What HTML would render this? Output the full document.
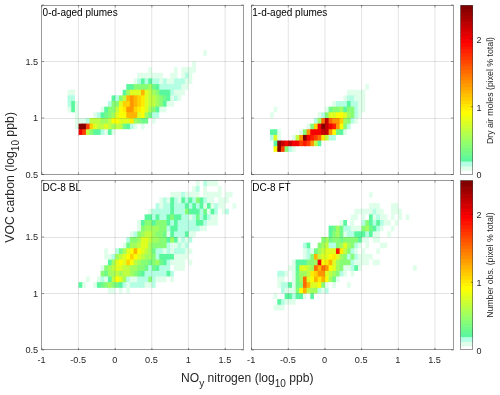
<!DOCTYPE html>
<html><head><meta charset="utf-8"><title>Figure</title>
<style>html,body{margin:0;padding:0;background:#fff}svg{display:block}</style></head>
<body>
<svg width="500" height="395" viewBox="0 0 500 395" font-family="'Liberation Sans', Arial, sans-serif" fill="#262626">
<rect width="500" height="395" fill="#fff"/>
<g>
<rect x="203.27" y="50.20" width="4.67" height="6.65" fill="#e0ffea"/>
<rect x="206.94" y="50.20" width="4.67" height="6.65" fill="#ffffff"/>
<rect x="203.27" y="55.85" width="4.67" height="6.65" fill="#ffffff"/>
<rect x="206.94" y="55.85" width="4.67" height="6.65" fill="#ffffff"/>
<rect x="192.27" y="61.50" width="4.67" height="6.65" fill="#e0ffea"/>
<rect x="195.94" y="61.50" width="4.67" height="6.65" fill="#ffffff"/>
<rect x="148.26" y="67.15" width="4.67" height="6.65" fill="#e0ffea"/>
<rect x="151.93" y="67.15" width="4.67" height="6.65" fill="#ffffff"/>
<rect x="173.93" y="67.15" width="4.67" height="6.65" fill="#e0ffea"/>
<rect x="177.60" y="67.15" width="4.67" height="6.65" fill="#ffffff"/>
<rect x="181.27" y="67.15" width="4.67" height="6.65" fill="#e0ffea"/>
<rect x="184.93" y="67.15" width="4.67" height="6.65" fill="#e0ffea"/>
<rect x="188.60" y="67.15" width="4.67" height="6.65" fill="#e0ffea"/>
<rect x="192.27" y="67.15" width="4.67" height="6.65" fill="#e0ffea"/>
<rect x="195.94" y="67.15" width="4.67" height="6.65" fill="#ffffff"/>
<rect x="137.25" y="72.80" width="4.67" height="6.65" fill="#e0ffea"/>
<rect x="140.92" y="72.80" width="4.67" height="6.65" fill="#e0ffea"/>
<rect x="144.59" y="72.80" width="4.67" height="6.65" fill="#e0ffea"/>
<rect x="148.26" y="72.80" width="4.67" height="6.65" fill="#e0ffea"/>
<rect x="151.93" y="72.80" width="4.67" height="6.65" fill="#e0ffea"/>
<rect x="155.59" y="72.80" width="4.67" height="6.65" fill="#e0ffea"/>
<rect x="159.26" y="72.80" width="4.67" height="6.65" fill="#e0ffea"/>
<rect x="162.93" y="72.80" width="4.67" height="6.65" fill="#ffffff"/>
<rect x="170.26" y="72.80" width="4.67" height="6.65" fill="#e0ffea"/>
<rect x="173.93" y="72.80" width="4.67" height="6.65" fill="#e0ffea"/>
<rect x="177.60" y="72.80" width="4.67" height="6.65" fill="#ffffff"/>
<rect x="181.27" y="72.80" width="4.67" height="6.65" fill="#e0ffea"/>
<rect x="184.93" y="72.80" width="4.67" height="6.65" fill="#b4ffe4"/>
<rect x="188.60" y="72.80" width="4.67" height="6.65" fill="#e0ffea"/>
<rect x="192.27" y="72.80" width="4.67" height="6.65" fill="#ffffff"/>
<rect x="195.94" y="72.80" width="4.67" height="6.65" fill="#ffffff"/>
<rect x="133.59" y="78.45" width="4.67" height="6.65" fill="#e0ffea"/>
<rect x="137.25" y="78.45" width="4.67" height="6.65" fill="#b4ffe4"/>
<rect x="140.92" y="78.45" width="4.67" height="6.65" fill="#59f79e"/>
<rect x="144.59" y="78.45" width="4.67" height="6.65" fill="#b4ffe4"/>
<rect x="148.26" y="78.45" width="4.67" height="6.65" fill="#59f79e"/>
<rect x="151.93" y="78.45" width="4.67" height="6.65" fill="#b4ffe4"/>
<rect x="155.59" y="78.45" width="4.67" height="6.65" fill="#b4ffe4"/>
<rect x="159.26" y="78.45" width="4.67" height="6.65" fill="#e0ffea"/>
<rect x="162.93" y="78.45" width="4.67" height="6.65" fill="#b4ffe4"/>
<rect x="166.59" y="78.45" width="4.67" height="6.65" fill="#e0ffea"/>
<rect x="170.26" y="78.45" width="4.67" height="6.65" fill="#e0ffea"/>
<rect x="173.93" y="78.45" width="4.67" height="6.65" fill="#b4ffe4"/>
<rect x="177.60" y="78.45" width="4.67" height="6.65" fill="#b4ffe4"/>
<rect x="181.27" y="78.45" width="4.67" height="6.65" fill="#b4ffe4"/>
<rect x="184.93" y="78.45" width="4.67" height="6.65" fill="#e0ffea"/>
<rect x="188.60" y="78.45" width="4.67" height="6.65" fill="#e0ffea"/>
<rect x="192.27" y="78.45" width="4.67" height="6.65" fill="#ffffff"/>
<rect x="126.25" y="84.10" width="4.67" height="6.65" fill="#59f79e"/>
<rect x="129.92" y="84.10" width="4.67" height="6.65" fill="#59f79e"/>
<rect x="133.59" y="84.10" width="4.67" height="6.65" fill="#87fd76"/>
<rect x="137.25" y="84.10" width="4.67" height="6.65" fill="#87fd76"/>
<rect x="140.92" y="84.10" width="4.67" height="6.65" fill="#87fd76"/>
<rect x="144.59" y="84.10" width="4.67" height="6.65" fill="#87fd76"/>
<rect x="148.26" y="84.10" width="4.67" height="6.65" fill="#a0ff5f"/>
<rect x="151.93" y="84.10" width="4.67" height="6.65" fill="#70fa8a"/>
<rect x="155.59" y="84.10" width="4.67" height="6.65" fill="#59f79e"/>
<rect x="159.26" y="84.10" width="4.67" height="6.65" fill="#b4ffe4"/>
<rect x="162.93" y="84.10" width="4.67" height="6.65" fill="#b4ffe4"/>
<rect x="166.59" y="84.10" width="4.67" height="6.65" fill="#b4ffe4"/>
<rect x="170.26" y="84.10" width="4.67" height="6.65" fill="#b4ffe4"/>
<rect x="173.93" y="84.10" width="4.67" height="6.65" fill="#b4ffe4"/>
<rect x="177.60" y="84.10" width="4.67" height="6.65" fill="#b4ffe4"/>
<rect x="181.27" y="84.10" width="4.67" height="6.65" fill="#e0ffea"/>
<rect x="184.93" y="84.10" width="4.67" height="6.65" fill="#e0ffea"/>
<rect x="188.60" y="84.10" width="4.67" height="6.65" fill="#ffffff"/>
<rect x="192.27" y="84.10" width="4.67" height="6.65" fill="#ffffff"/>
<rect x="67.57" y="89.75" width="4.67" height="6.65" fill="#e0ffea"/>
<rect x="71.24" y="89.75" width="4.67" height="6.65" fill="#e0ffea"/>
<rect x="74.91" y="89.75" width="4.67" height="6.65" fill="#ffffff"/>
<rect x="122.59" y="89.75" width="4.67" height="6.65" fill="#59f79e"/>
<rect x="126.25" y="89.75" width="4.67" height="6.65" fill="#a0ff5f"/>
<rect x="129.92" y="89.75" width="4.67" height="6.65" fill="#deff21"/>
<rect x="133.59" y="89.75" width="4.67" height="6.65" fill="#deff21"/>
<rect x="137.25" y="89.75" width="4.67" height="6.65" fill="#deff21"/>
<rect x="140.92" y="89.75" width="4.67" height="6.65" fill="#ffb500"/>
<rect x="144.59" y="89.75" width="4.67" height="6.65" fill="#deff21"/>
<rect x="148.26" y="89.75" width="4.67" height="6.65" fill="#beff41"/>
<rect x="151.93" y="89.75" width="4.67" height="6.65" fill="#a0ff5f"/>
<rect x="155.59" y="89.75" width="4.67" height="6.65" fill="#87fd76"/>
<rect x="159.26" y="89.75" width="4.67" height="6.65" fill="#59f79e"/>
<rect x="162.93" y="89.75" width="4.67" height="6.65" fill="#59f79e"/>
<rect x="166.59" y="89.75" width="4.67" height="6.65" fill="#59f79e"/>
<rect x="170.26" y="89.75" width="4.67" height="6.65" fill="#b4ffe4"/>
<rect x="173.93" y="89.75" width="4.67" height="6.65" fill="#e0ffea"/>
<rect x="177.60" y="89.75" width="4.67" height="6.65" fill="#e0ffea"/>
<rect x="181.27" y="89.75" width="4.67" height="6.65" fill="#e0ffea"/>
<rect x="184.93" y="89.75" width="4.67" height="6.65" fill="#ffffff"/>
<rect x="188.60" y="89.75" width="4.67" height="6.65" fill="#ffffff"/>
<rect x="67.57" y="95.40" width="4.67" height="6.65" fill="#b4ffe4"/>
<rect x="71.24" y="95.40" width="4.67" height="6.65" fill="#b4ffe4"/>
<rect x="74.91" y="95.40" width="4.67" height="6.65" fill="#ffffff"/>
<rect x="111.58" y="95.40" width="4.67" height="6.65" fill="#59f79e"/>
<rect x="115.25" y="95.40" width="4.67" height="6.65" fill="#b4ffe4"/>
<rect x="118.92" y="95.40" width="4.67" height="6.65" fill="#87fd76"/>
<rect x="122.59" y="95.40" width="4.67" height="6.65" fill="#beff41"/>
<rect x="126.25" y="95.40" width="4.67" height="6.65" fill="#ffb500"/>
<rect x="129.92" y="95.40" width="4.67" height="6.65" fill="#ff9500"/>
<rect x="133.59" y="95.40" width="4.67" height="6.65" fill="#ffb500"/>
<rect x="137.25" y="95.40" width="4.67" height="6.65" fill="#ffd200"/>
<rect x="140.92" y="95.40" width="4.67" height="6.65" fill="#ffeb00"/>
<rect x="144.59" y="95.40" width="4.67" height="6.65" fill="#deff21"/>
<rect x="148.26" y="95.40" width="4.67" height="6.65" fill="#beff41"/>
<rect x="151.93" y="95.40" width="4.67" height="6.65" fill="#beff41"/>
<rect x="155.59" y="95.40" width="4.67" height="6.65" fill="#a0ff5f"/>
<rect x="159.26" y="95.40" width="4.67" height="6.65" fill="#87fd76"/>
<rect x="162.93" y="95.40" width="4.67" height="6.65" fill="#70fa8a"/>
<rect x="166.59" y="95.40" width="4.67" height="6.65" fill="#59f79e"/>
<rect x="170.26" y="95.40" width="4.67" height="6.65" fill="#e0ffea"/>
<rect x="173.93" y="95.40" width="4.67" height="6.65" fill="#b4ffe4"/>
<rect x="177.60" y="95.40" width="4.67" height="6.65" fill="#e0ffea"/>
<rect x="181.27" y="95.40" width="4.67" height="6.65" fill="#ffffff"/>
<rect x="184.93" y="95.40" width="4.67" height="6.65" fill="#ffffff"/>
<rect x="67.57" y="101.05" width="4.67" height="6.65" fill="#b4ffe4"/>
<rect x="71.24" y="101.05" width="4.67" height="6.65" fill="#59f79e"/>
<rect x="74.91" y="101.05" width="4.67" height="6.65" fill="#e0ffea"/>
<rect x="78.57" y="101.05" width="4.67" height="6.65" fill="#ffffff"/>
<rect x="107.91" y="101.05" width="4.67" height="6.65" fill="#b4ffe4"/>
<rect x="111.58" y="101.05" width="4.67" height="6.65" fill="#87fd76"/>
<rect x="115.25" y="101.05" width="4.67" height="6.65" fill="#87fd76"/>
<rect x="118.92" y="101.05" width="4.67" height="6.65" fill="#deff21"/>
<rect x="122.59" y="101.05" width="4.67" height="6.65" fill="#ffd200"/>
<rect x="126.25" y="101.05" width="4.67" height="6.65" fill="#ffd200"/>
<rect x="129.92" y="101.05" width="4.67" height="6.65" fill="#ff9500"/>
<rect x="133.59" y="101.05" width="4.67" height="6.65" fill="#ffb500"/>
<rect x="137.25" y="101.05" width="4.67" height="6.65" fill="#ffd200"/>
<rect x="140.92" y="101.05" width="4.67" height="6.65" fill="#ffeb00"/>
<rect x="144.59" y="101.05" width="4.67" height="6.65" fill="#deff21"/>
<rect x="148.26" y="101.05" width="4.67" height="6.65" fill="#beff41"/>
<rect x="151.93" y="101.05" width="4.67" height="6.65" fill="#beff41"/>
<rect x="155.59" y="101.05" width="4.67" height="6.65" fill="#a0ff5f"/>
<rect x="159.26" y="101.05" width="4.67" height="6.65" fill="#87fd76"/>
<rect x="162.93" y="101.05" width="4.67" height="6.65" fill="#59f79e"/>
<rect x="166.59" y="101.05" width="4.67" height="6.65" fill="#e0ffea"/>
<rect x="170.26" y="101.05" width="4.67" height="6.65" fill="#e0ffea"/>
<rect x="173.93" y="101.05" width="4.67" height="6.65" fill="#ffffff"/>
<rect x="177.60" y="101.05" width="4.67" height="6.65" fill="#ffffff"/>
<rect x="181.27" y="101.05" width="4.67" height="6.65" fill="#ffffff"/>
<rect x="67.57" y="106.70" width="4.67" height="6.65" fill="#e0ffea"/>
<rect x="71.24" y="106.70" width="4.67" height="6.65" fill="#59f79e"/>
<rect x="74.91" y="106.70" width="4.67" height="6.65" fill="#e0ffea"/>
<rect x="78.57" y="106.70" width="4.67" height="6.65" fill="#ffffff"/>
<rect x="100.58" y="106.70" width="4.67" height="6.65" fill="#e0ffea"/>
<rect x="104.25" y="106.70" width="4.67" height="6.65" fill="#59f79e"/>
<rect x="107.91" y="106.70" width="4.67" height="6.65" fill="#87fd76"/>
<rect x="111.58" y="106.70" width="4.67" height="6.65" fill="#87fd76"/>
<rect x="115.25" y="106.70" width="4.67" height="6.65" fill="#beff41"/>
<rect x="118.92" y="106.70" width="4.67" height="6.65" fill="#fbff04"/>
<rect x="122.59" y="106.70" width="4.67" height="6.65" fill="#ffeb00"/>
<rect x="126.25" y="106.70" width="4.67" height="6.65" fill="#ff9500"/>
<rect x="129.92" y="106.70" width="4.67" height="6.65" fill="#ff9500"/>
<rect x="133.59" y="106.70" width="4.67" height="6.65" fill="#ffd200"/>
<rect x="137.25" y="106.70" width="4.67" height="6.65" fill="#ffeb00"/>
<rect x="140.92" y="106.70" width="4.67" height="6.65" fill="#fbff04"/>
<rect x="144.59" y="106.70" width="4.67" height="6.65" fill="#deff21"/>
<rect x="148.26" y="106.70" width="4.67" height="6.65" fill="#a0ff5f"/>
<rect x="151.93" y="106.70" width="4.67" height="6.65" fill="#87fd76"/>
<rect x="155.59" y="106.70" width="4.67" height="6.65" fill="#59f79e"/>
<rect x="159.26" y="106.70" width="4.67" height="6.65" fill="#e0ffea"/>
<rect x="162.93" y="106.70" width="4.67" height="6.65" fill="#e0ffea"/>
<rect x="166.59" y="106.70" width="4.67" height="6.65" fill="#ffffff"/>
<rect x="170.26" y="106.70" width="4.67" height="6.65" fill="#ffffff"/>
<rect x="173.93" y="106.70" width="4.67" height="6.65" fill="#ffffff"/>
<rect x="67.57" y="112.35" width="4.67" height="6.65" fill="#ffffff"/>
<rect x="71.24" y="112.35" width="4.67" height="6.65" fill="#ffffff"/>
<rect x="74.91" y="112.35" width="4.67" height="6.65" fill="#e0ffea"/>
<rect x="78.57" y="112.35" width="4.67" height="6.65" fill="#ffffff"/>
<rect x="93.25" y="112.35" width="4.67" height="6.65" fill="#e0ffea"/>
<rect x="96.91" y="112.35" width="4.67" height="6.65" fill="#b4ffe4"/>
<rect x="100.58" y="112.35" width="4.67" height="6.65" fill="#59f79e"/>
<rect x="104.25" y="112.35" width="4.67" height="6.65" fill="#70fa8a"/>
<rect x="107.91" y="112.35" width="4.67" height="6.65" fill="#87fd76"/>
<rect x="111.58" y="112.35" width="4.67" height="6.65" fill="#a0ff5f"/>
<rect x="115.25" y="112.35" width="4.67" height="6.65" fill="#deff21"/>
<rect x="118.92" y="112.35" width="4.67" height="6.65" fill="#fbff04"/>
<rect x="122.59" y="112.35" width="4.67" height="6.65" fill="#fbff04"/>
<rect x="126.25" y="112.35" width="4.67" height="6.65" fill="#ffb500"/>
<rect x="129.92" y="112.35" width="4.67" height="6.65" fill="#ffb500"/>
<rect x="133.59" y="112.35" width="4.67" height="6.65" fill="#ffb500"/>
<rect x="137.25" y="112.35" width="4.67" height="6.65" fill="#deff21"/>
<rect x="140.92" y="112.35" width="4.67" height="6.65" fill="#fbff04"/>
<rect x="144.59" y="112.35" width="4.67" height="6.65" fill="#a0ff5f"/>
<rect x="148.26" y="112.35" width="4.67" height="6.65" fill="#70fa8a"/>
<rect x="151.93" y="112.35" width="4.67" height="6.65" fill="#b4ffe4"/>
<rect x="155.59" y="112.35" width="4.67" height="6.65" fill="#b4ffe4"/>
<rect x="159.26" y="112.35" width="4.67" height="6.65" fill="#ffffff"/>
<rect x="162.93" y="112.35" width="4.67" height="6.65" fill="#ffffff"/>
<rect x="166.59" y="112.35" width="4.67" height="6.65" fill="#ffffff"/>
<rect x="74.91" y="118.00" width="4.67" height="6.65" fill="#e0ffea"/>
<rect x="78.57" y="118.00" width="4.67" height="6.65" fill="#e0ffea"/>
<rect x="82.24" y="118.00" width="4.67" height="6.65" fill="#e0ffea"/>
<rect x="85.91" y="118.00" width="4.67" height="6.65" fill="#b4ffe4"/>
<rect x="89.58" y="118.00" width="4.67" height="6.65" fill="#beff41"/>
<rect x="93.25" y="118.00" width="4.67" height="6.65" fill="#beff41"/>
<rect x="96.91" y="118.00" width="4.67" height="6.65" fill="#beff41"/>
<rect x="100.58" y="118.00" width="4.67" height="6.65" fill="#a0ff5f"/>
<rect x="104.25" y="118.00" width="4.67" height="6.65" fill="#a0ff5f"/>
<rect x="107.91" y="118.00" width="4.67" height="6.65" fill="#beff41"/>
<rect x="111.58" y="118.00" width="4.67" height="6.65" fill="#fbff04"/>
<rect x="115.25" y="118.00" width="4.67" height="6.65" fill="#fbff04"/>
<rect x="118.92" y="118.00" width="4.67" height="6.65" fill="#deff21"/>
<rect x="122.59" y="118.00" width="4.67" height="6.65" fill="#deff21"/>
<rect x="126.25" y="118.00" width="4.67" height="6.65" fill="#deff21"/>
<rect x="129.92" y="118.00" width="4.67" height="6.65" fill="#ffeb00"/>
<rect x="133.59" y="118.00" width="4.67" height="6.65" fill="#a0ff5f"/>
<rect x="137.25" y="118.00" width="4.67" height="6.65" fill="#87fd76"/>
<rect x="140.92" y="118.00" width="4.67" height="6.65" fill="#70fa8a"/>
<rect x="144.59" y="118.00" width="4.67" height="6.65" fill="#70fa8a"/>
<rect x="148.26" y="118.00" width="4.67" height="6.65" fill="#ffffff"/>
<rect x="151.93" y="118.00" width="4.67" height="6.65" fill="#e0ffea"/>
<rect x="155.59" y="118.00" width="4.67" height="6.65" fill="#ffffff"/>
<rect x="159.26" y="118.00" width="4.67" height="6.65" fill="#ffffff"/>
<rect x="74.91" y="123.65" width="4.67" height="6.65" fill="#e0ffea"/>
<rect x="78.57" y="123.65" width="4.67" height="6.65" fill="#870000"/>
<rect x="82.24" y="123.65" width="4.67" height="6.65" fill="#870000"/>
<rect x="85.91" y="123.65" width="4.67" height="6.65" fill="#ff3f00"/>
<rect x="89.58" y="123.65" width="4.67" height="6.65" fill="#ffd200"/>
<rect x="93.25" y="123.65" width="4.67" height="6.65" fill="#deff21"/>
<rect x="96.91" y="123.65" width="4.67" height="6.65" fill="#beff41"/>
<rect x="100.58" y="123.65" width="4.67" height="6.65" fill="#beff41"/>
<rect x="104.25" y="123.65" width="4.67" height="6.65" fill="#deff21"/>
<rect x="107.91" y="123.65" width="4.67" height="6.65" fill="#beff41"/>
<rect x="111.58" y="123.65" width="4.67" height="6.65" fill="#a0ff5f"/>
<rect x="115.25" y="123.65" width="4.67" height="6.65" fill="#beff41"/>
<rect x="118.92" y="123.65" width="4.67" height="6.65" fill="#beff41"/>
<rect x="122.59" y="123.65" width="4.67" height="6.65" fill="#70fa8a"/>
<rect x="126.25" y="123.65" width="4.67" height="6.65" fill="#59f79e"/>
<rect x="129.92" y="123.65" width="4.67" height="6.65" fill="#b4ffe4"/>
<rect x="133.59" y="123.65" width="4.67" height="6.65" fill="#e0ffea"/>
<rect x="137.25" y="123.65" width="4.67" height="6.65" fill="#ffffff"/>
<rect x="140.92" y="123.65" width="4.67" height="6.65" fill="#e0ffea"/>
<rect x="144.59" y="123.65" width="4.67" height="6.65" fill="#ffffff"/>
<rect x="148.26" y="123.65" width="4.67" height="6.65" fill="#ffffff"/>
<rect x="151.93" y="123.65" width="4.67" height="6.65" fill="#ffffff"/>
<rect x="155.59" y="123.65" width="4.67" height="6.65" fill="#ffffff"/>
<rect x="74.91" y="129.30" width="4.67" height="6.65" fill="#ffffff"/>
<rect x="78.57" y="129.30" width="4.67" height="6.65" fill="#f50000"/>
<rect x="82.24" y="129.30" width="4.67" height="6.65" fill="#ff3f00"/>
<rect x="85.91" y="129.30" width="4.67" height="6.65" fill="#beff41"/>
<rect x="89.58" y="129.30" width="4.67" height="6.65" fill="#87fd76"/>
<rect x="93.25" y="129.30" width="4.67" height="6.65" fill="#59f79e"/>
<rect x="96.91" y="129.30" width="4.67" height="6.65" fill="#59f79e"/>
<rect x="100.58" y="129.30" width="4.67" height="6.65" fill="#b4ffe4"/>
<rect x="104.25" y="129.30" width="4.67" height="6.65" fill="#e0ffea"/>
<rect x="107.91" y="129.30" width="4.67" height="6.65" fill="#59f79e"/>
<rect x="111.58" y="129.30" width="4.67" height="6.65" fill="#e0ffea"/>
<rect x="115.25" y="129.30" width="4.67" height="6.65" fill="#ffffff"/>
<rect x="118.92" y="129.30" width="4.67" height="6.65" fill="#ffffff"/>
<rect x="122.59" y="129.30" width="4.67" height="6.65" fill="#ffffff"/>
<rect x="126.25" y="129.30" width="4.67" height="6.65" fill="#ffffff"/>
<rect x="129.92" y="129.30" width="4.67" height="6.65" fill="#ffffff"/>
<rect x="133.59" y="129.30" width="4.67" height="6.65" fill="#ffffff"/>
<rect x="137.25" y="129.30" width="4.67" height="6.65" fill="#ffffff"/>
<rect x="140.92" y="129.30" width="4.67" height="6.65" fill="#ffffff"/>
<rect x="144.59" y="129.30" width="4.67" height="6.65" fill="#ffffff"/>
<rect x="78.57" y="134.95" width="4.67" height="6.65" fill="#ffffff"/>
<rect x="82.24" y="134.95" width="4.67" height="6.65" fill="#ffffff"/>
<rect x="85.91" y="134.95" width="4.67" height="6.65" fill="#ffffff"/>
<rect x="89.58" y="134.95" width="4.67" height="6.65" fill="#ffffff"/>
<rect x="93.25" y="134.95" width="4.67" height="6.65" fill="#ffffff"/>
<rect x="96.91" y="134.95" width="4.67" height="6.65" fill="#ffffff"/>
<rect x="100.58" y="134.95" width="4.67" height="6.65" fill="#ffffff"/>
<rect x="104.25" y="134.95" width="4.67" height="6.65" fill="#ffffff"/>
<rect x="107.91" y="134.95" width="4.67" height="6.65" fill="#ffffff"/>
<rect x="111.58" y="134.95" width="4.67" height="6.65" fill="#ffffff"/>
<rect x="115.25" y="134.95" width="4.67" height="6.65" fill="#ffffff"/>
</g>
<path d="M78.39 5.20V174.50M115.07 5.20V174.50M151.75 5.20V174.50M188.42 5.20V174.50M225.09 5.20V174.50M41.90 118.50H243.61M41.90 61.50H243.61" stroke="#262626" stroke-opacity="0.13" stroke-width="1" fill="none"/>
<path d="M41.90 174.50v-2.2M41.90 5.20v2.2M78.57 174.50v-2.2M78.57 5.20v2.2M115.25 174.50v-2.2M115.25 5.20v2.2M151.92 174.50v-2.2M151.92 5.20v2.2M188.60 174.50v-2.2M188.60 5.20v2.2M225.28 174.50v-2.2M225.28 5.20v2.2M41.90 174.50h2.2M243.61 174.50h-2.2M41.90 118.00h2.2M243.61 118.00h-2.2M41.90 61.50h2.2M243.61 61.50h-2.2M41.90 5.00h2.2M243.61 5.00h-2.2" stroke="#262626" stroke-opacity="0.8" stroke-width="0.6" fill="none"/>
<rect x="41.5" y="5.5" width="202.0" height="169.0" fill="none" stroke="#262626" stroke-opacity="0.47" stroke-width="1"/>
<text x="42.6" y="15.7" font-size="10" fill="#000">0-d-aged plumes</text>
<g>
<rect x="365.29" y="84.10" width="4.67" height="6.65" fill="#e0ffea"/>
<rect x="368.96" y="84.10" width="4.67" height="6.65" fill="#ffffff"/>
<rect x="346.95" y="89.75" width="4.67" height="6.65" fill="#e0ffea"/>
<rect x="350.62" y="89.75" width="4.67" height="6.65" fill="#e0ffea"/>
<rect x="354.29" y="89.75" width="4.67" height="6.65" fill="#e0ffea"/>
<rect x="357.96" y="89.75" width="4.67" height="6.65" fill="#e0ffea"/>
<rect x="361.62" y="89.75" width="4.67" height="6.65" fill="#e0ffea"/>
<rect x="365.29" y="89.75" width="4.67" height="6.65" fill="#ffffff"/>
<rect x="368.96" y="89.75" width="4.67" height="6.65" fill="#ffffff"/>
<rect x="343.29" y="95.40" width="4.67" height="6.65" fill="#e0ffea"/>
<rect x="346.95" y="95.40" width="4.67" height="6.65" fill="#b4ffe4"/>
<rect x="350.62" y="95.40" width="4.67" height="6.65" fill="#b4ffe4"/>
<rect x="354.29" y="95.40" width="4.67" height="6.65" fill="#e0ffea"/>
<rect x="357.96" y="95.40" width="4.67" height="6.65" fill="#e0ffea"/>
<rect x="361.62" y="95.40" width="4.67" height="6.65" fill="#e0ffea"/>
<rect x="365.29" y="95.40" width="4.67" height="6.65" fill="#ffffff"/>
<rect x="332.28" y="101.05" width="4.67" height="6.65" fill="#e0ffea"/>
<rect x="335.95" y="101.05" width="4.67" height="6.65" fill="#b4ffe4"/>
<rect x="339.62" y="101.05" width="4.67" height="6.65" fill="#b4ffe4"/>
<rect x="343.29" y="101.05" width="4.67" height="6.65" fill="#b4ffe4"/>
<rect x="346.95" y="101.05" width="4.67" height="6.65" fill="#59f79e"/>
<rect x="350.62" y="101.05" width="4.67" height="6.65" fill="#b4ffe4"/>
<rect x="354.29" y="101.05" width="4.67" height="6.65" fill="#b4ffe4"/>
<rect x="357.96" y="101.05" width="4.67" height="6.65" fill="#e0ffea"/>
<rect x="361.62" y="101.05" width="4.67" height="6.65" fill="#e0ffea"/>
<rect x="365.29" y="101.05" width="4.67" height="6.65" fill="#ffffff"/>
<rect x="273.61" y="106.70" width="4.67" height="6.65" fill="#e0ffea"/>
<rect x="277.27" y="106.70" width="4.67" height="6.65" fill="#ffffff"/>
<rect x="324.95" y="106.70" width="4.67" height="6.65" fill="#e0ffea"/>
<rect x="328.62" y="106.70" width="4.67" height="6.65" fill="#70fa8a"/>
<rect x="332.28" y="106.70" width="4.67" height="6.65" fill="#87fd76"/>
<rect x="335.95" y="106.70" width="4.67" height="6.65" fill="#87fd76"/>
<rect x="339.62" y="106.70" width="4.67" height="6.65" fill="#a0ff5f"/>
<rect x="343.29" y="106.70" width="4.67" height="6.65" fill="#59f79e"/>
<rect x="346.95" y="106.70" width="4.67" height="6.65" fill="#87fd76"/>
<rect x="350.62" y="106.70" width="4.67" height="6.65" fill="#87fd76"/>
<rect x="354.29" y="106.70" width="4.67" height="6.65" fill="#b4ffe4"/>
<rect x="357.96" y="106.70" width="4.67" height="6.65" fill="#e0ffea"/>
<rect x="361.62" y="106.70" width="4.67" height="6.65" fill="#e0ffea"/>
<rect x="365.29" y="106.70" width="4.67" height="6.65" fill="#ffffff"/>
<rect x="269.94" y="112.35" width="4.67" height="6.65" fill="#e0ffea"/>
<rect x="273.61" y="112.35" width="4.67" height="6.65" fill="#ffffff"/>
<rect x="277.27" y="112.35" width="4.67" height="6.65" fill="#ffffff"/>
<rect x="317.62" y="112.35" width="4.67" height="6.65" fill="#e0ffea"/>
<rect x="321.28" y="112.35" width="4.67" height="6.65" fill="#b4ffe4"/>
<rect x="324.95" y="112.35" width="4.67" height="6.65" fill="#87fd76"/>
<rect x="328.62" y="112.35" width="4.67" height="6.65" fill="#deff21"/>
<rect x="332.28" y="112.35" width="4.67" height="6.65" fill="#deff21"/>
<rect x="335.95" y="112.35" width="4.67" height="6.65" fill="#fbff04"/>
<rect x="339.62" y="112.35" width="4.67" height="6.65" fill="#fbff04"/>
<rect x="343.29" y="112.35" width="4.67" height="6.65" fill="#deff21"/>
<rect x="346.95" y="112.35" width="4.67" height="6.65" fill="#a0ff5f"/>
<rect x="350.62" y="112.35" width="4.67" height="6.65" fill="#87fd76"/>
<rect x="354.29" y="112.35" width="4.67" height="6.65" fill="#b4ffe4"/>
<rect x="357.96" y="112.35" width="4.67" height="6.65" fill="#e0ffea"/>
<rect x="361.62" y="112.35" width="4.67" height="6.65" fill="#ffffff"/>
<rect x="365.29" y="112.35" width="4.67" height="6.65" fill="#ffffff"/>
<rect x="269.94" y="118.00" width="4.67" height="6.65" fill="#ffffff"/>
<rect x="273.61" y="118.00" width="4.67" height="6.65" fill="#ffffff"/>
<rect x="313.95" y="118.00" width="4.67" height="6.65" fill="#b4ffe4"/>
<rect x="317.62" y="118.00" width="4.67" height="6.65" fill="#a0ff5f"/>
<rect x="321.28" y="118.00" width="4.67" height="6.65" fill="#ff6b00"/>
<rect x="324.95" y="118.00" width="4.67" height="6.65" fill="#c40000"/>
<rect x="328.62" y="118.00" width="4.67" height="6.65" fill="#ff6b00"/>
<rect x="332.28" y="118.00" width="4.67" height="6.65" fill="#ff9500"/>
<rect x="335.95" y="118.00" width="4.67" height="6.65" fill="#ff9500"/>
<rect x="339.62" y="118.00" width="4.67" height="6.65" fill="#ffd200"/>
<rect x="343.29" y="118.00" width="4.67" height="6.65" fill="#a0ff5f"/>
<rect x="346.95" y="118.00" width="4.67" height="6.65" fill="#87fd76"/>
<rect x="350.62" y="118.00" width="4.67" height="6.65" fill="#b4ffe4"/>
<rect x="354.29" y="118.00" width="4.67" height="6.65" fill="#e0ffea"/>
<rect x="357.96" y="118.00" width="4.67" height="6.65" fill="#ffffff"/>
<rect x="361.62" y="118.00" width="4.67" height="6.65" fill="#ffffff"/>
<rect x="306.61" y="123.65" width="4.67" height="6.65" fill="#e0ffea"/>
<rect x="310.28" y="123.65" width="4.67" height="6.65" fill="#87fd76"/>
<rect x="313.95" y="123.65" width="4.67" height="6.65" fill="#ffd200"/>
<rect x="317.62" y="123.65" width="4.67" height="6.65" fill="#f50000"/>
<rect x="321.28" y="123.65" width="4.67" height="6.65" fill="#870000"/>
<rect x="324.95" y="123.65" width="4.67" height="6.65" fill="#c40000"/>
<rect x="328.62" y="123.65" width="4.67" height="6.65" fill="#f50000"/>
<rect x="332.28" y="123.65" width="4.67" height="6.65" fill="#ff1b00"/>
<rect x="335.95" y="123.65" width="4.67" height="6.65" fill="#ff9500"/>
<rect x="339.62" y="123.65" width="4.67" height="6.65" fill="#fbff04"/>
<rect x="343.29" y="123.65" width="4.67" height="6.65" fill="#87fd76"/>
<rect x="346.95" y="123.65" width="4.67" height="6.65" fill="#b4ffe4"/>
<rect x="350.62" y="123.65" width="4.67" height="6.65" fill="#ffffff"/>
<rect x="354.29" y="123.65" width="4.67" height="6.65" fill="#ffffff"/>
<rect x="357.96" y="123.65" width="4.67" height="6.65" fill="#ffffff"/>
<rect x="269.94" y="129.30" width="4.67" height="6.65" fill="#59f79e"/>
<rect x="273.61" y="129.30" width="4.67" height="6.65" fill="#59f79e"/>
<rect x="277.27" y="129.30" width="4.67" height="6.65" fill="#e0ffea"/>
<rect x="280.94" y="129.30" width="4.67" height="6.65" fill="#ffffff"/>
<rect x="299.28" y="129.30" width="4.67" height="6.65" fill="#e0ffea"/>
<rect x="302.94" y="129.30" width="4.67" height="6.65" fill="#87fd76"/>
<rect x="306.61" y="129.30" width="4.67" height="6.65" fill="#ff9500"/>
<rect x="310.28" y="129.30" width="4.67" height="6.65" fill="#f50000"/>
<rect x="313.95" y="129.30" width="4.67" height="6.65" fill="#f50000"/>
<rect x="317.62" y="129.30" width="4.67" height="6.65" fill="#f50000"/>
<rect x="321.28" y="129.30" width="4.67" height="6.65" fill="#c40000"/>
<rect x="324.95" y="129.30" width="4.67" height="6.65" fill="#c40000"/>
<rect x="328.62" y="129.30" width="4.67" height="6.65" fill="#ff9500"/>
<rect x="332.28" y="129.30" width="4.67" height="6.65" fill="#fbff04"/>
<rect x="335.95" y="129.30" width="4.67" height="6.65" fill="#70fa8a"/>
<rect x="339.62" y="129.30" width="4.67" height="6.65" fill="#59f79e"/>
<rect x="343.29" y="129.30" width="4.67" height="6.65" fill="#e0ffea"/>
<rect x="346.95" y="129.30" width="4.67" height="6.65" fill="#ffffff"/>
<rect x="350.62" y="129.30" width="4.67" height="6.65" fill="#ffffff"/>
<rect x="269.94" y="134.95" width="4.67" height="6.65" fill="#b4ffe4"/>
<rect x="273.61" y="134.95" width="4.67" height="6.65" fill="#deff21"/>
<rect x="277.27" y="134.95" width="4.67" height="6.65" fill="#e0ffea"/>
<rect x="280.94" y="134.95" width="4.67" height="6.65" fill="#ffffff"/>
<rect x="291.94" y="134.95" width="4.67" height="6.65" fill="#e0ffea"/>
<rect x="295.61" y="134.95" width="4.67" height="6.65" fill="#beff41"/>
<rect x="299.28" y="134.95" width="4.67" height="6.65" fill="#ff9500"/>
<rect x="302.94" y="134.95" width="4.67" height="6.65" fill="#870000"/>
<rect x="306.61" y="134.95" width="4.67" height="6.65" fill="#f50000"/>
<rect x="310.28" y="134.95" width="4.67" height="6.65" fill="#ff1b00"/>
<rect x="313.95" y="134.95" width="4.67" height="6.65" fill="#ff3f00"/>
<rect x="317.62" y="134.95" width="4.67" height="6.65" fill="#ff6b00"/>
<rect x="321.28" y="134.95" width="4.67" height="6.65" fill="#ffeb00"/>
<rect x="324.95" y="134.95" width="4.67" height="6.65" fill="#beff41"/>
<rect x="328.62" y="134.95" width="4.67" height="6.65" fill="#b4ffe4"/>
<rect x="332.28" y="134.95" width="4.67" height="6.65" fill="#b4ffe4"/>
<rect x="335.95" y="134.95" width="4.67" height="6.65" fill="#ffffff"/>
<rect x="339.62" y="134.95" width="4.67" height="6.65" fill="#ffffff"/>
<rect x="343.29" y="134.95" width="4.67" height="6.65" fill="#ffffff"/>
<rect x="346.95" y="134.95" width="4.67" height="6.65" fill="#ffffff"/>
<rect x="269.94" y="140.60" width="4.67" height="6.65" fill="#ffffff"/>
<rect x="273.61" y="140.60" width="4.67" height="6.65" fill="#59f79e"/>
<rect x="277.27" y="140.60" width="4.67" height="6.65" fill="#870000"/>
<rect x="280.94" y="140.60" width="4.67" height="6.65" fill="#c40000"/>
<rect x="284.61" y="140.60" width="4.67" height="6.65" fill="#f50000"/>
<rect x="288.27" y="140.60" width="4.67" height="6.65" fill="#c40000"/>
<rect x="291.94" y="140.60" width="4.67" height="6.65" fill="#f50000"/>
<rect x="295.61" y="140.60" width="4.67" height="6.65" fill="#f50000"/>
<rect x="299.28" y="140.60" width="4.67" height="6.65" fill="#ff3f00"/>
<rect x="302.94" y="140.60" width="4.67" height="6.65" fill="#ff1b00"/>
<rect x="306.61" y="140.60" width="4.67" height="6.65" fill="#ff3f00"/>
<rect x="310.28" y="140.60" width="4.67" height="6.65" fill="#ff9500"/>
<rect x="313.95" y="140.60" width="4.67" height="6.65" fill="#beff41"/>
<rect x="317.62" y="140.60" width="4.67" height="6.65" fill="#59f79e"/>
<rect x="321.28" y="140.60" width="4.67" height="6.65" fill="#ffffff"/>
<rect x="324.95" y="140.60" width="4.67" height="6.65" fill="#ffffff"/>
<rect x="328.62" y="140.60" width="4.67" height="6.65" fill="#ffffff"/>
<rect x="332.28" y="140.60" width="4.67" height="6.65" fill="#ffffff"/>
<rect x="335.95" y="140.60" width="4.67" height="6.65" fill="#ffffff"/>
<rect x="273.61" y="146.25" width="4.67" height="6.65" fill="#fbff04"/>
<rect x="277.27" y="146.25" width="4.67" height="6.65" fill="#870000"/>
<rect x="280.94" y="146.25" width="4.67" height="6.65" fill="#ff3f00"/>
<rect x="284.61" y="146.25" width="4.67" height="6.65" fill="#87fd76"/>
<rect x="288.27" y="146.25" width="4.67" height="6.65" fill="#b4ffe4"/>
<rect x="291.94" y="146.25" width="4.67" height="6.65" fill="#e0ffea"/>
<rect x="295.61" y="146.25" width="4.67" height="6.65" fill="#ffffff"/>
<rect x="299.28" y="146.25" width="4.67" height="6.65" fill="#ffffff"/>
<rect x="302.94" y="146.25" width="4.67" height="6.65" fill="#ffffff"/>
<rect x="306.61" y="146.25" width="4.67" height="6.65" fill="#ffffff"/>
<rect x="310.28" y="146.25" width="4.67" height="6.65" fill="#ffffff"/>
<rect x="313.95" y="146.25" width="4.67" height="6.65" fill="#ffffff"/>
<rect x="317.62" y="146.25" width="4.67" height="6.65" fill="#ffffff"/>
<rect x="321.28" y="146.25" width="4.67" height="6.65" fill="#ffffff"/>
<rect x="273.61" y="151.90" width="4.67" height="6.65" fill="#ffffff"/>
<rect x="277.27" y="151.90" width="4.67" height="6.65" fill="#ffffff"/>
<rect x="280.94" y="151.90" width="4.67" height="6.65" fill="#ffffff"/>
<rect x="284.61" y="151.90" width="4.67" height="6.65" fill="#ffffff"/>
<rect x="288.27" y="151.90" width="4.67" height="6.65" fill="#ffffff"/>
<rect x="291.94" y="151.90" width="4.67" height="6.65" fill="#ffffff"/>
<rect x="295.61" y="151.90" width="4.67" height="6.65" fill="#ffffff"/>
</g>
<path d="M288.27 5.20V174.50M324.95 5.20V174.50M361.62 5.20V174.50M398.30 5.20V174.50M434.98 5.20V174.50M251.60 118.50H453.31M251.60 61.50H453.31" stroke="#262626" stroke-opacity="0.13" stroke-width="1" fill="none"/>
<path d="M251.60 174.50v-2.2M251.60 5.20v2.2M288.27 174.50v-2.2M288.27 5.20v2.2M324.95 174.50v-2.2M324.95 5.20v2.2M361.62 174.50v-2.2M361.62 5.20v2.2M398.30 174.50v-2.2M398.30 5.20v2.2M434.98 174.50v-2.2M434.98 5.20v2.2M251.60 174.50h2.2M453.31 174.50h-2.2M251.60 118.00h2.2M453.31 118.00h-2.2M251.60 61.50h2.2M453.31 61.50h-2.2M251.60 5.00h2.2M453.31 5.00h-2.2" stroke="#262626" stroke-opacity="0.8" stroke-width="0.6" fill="none"/>
<rect x="251.5" y="5.5" width="202.0" height="169.0" fill="none" stroke="#262626" stroke-opacity="0.47" stroke-width="1"/>
<text x="252.3" y="15.7" font-size="10" fill="#000">1-d-aged plumes</text>
<g>
<rect x="195.94" y="180.50" width="4.67" height="6.65" fill="#e0ffea"/>
<rect x="199.60" y="180.50" width="4.67" height="6.65" fill="#ffffff"/>
<rect x="203.27" y="180.50" width="4.67" height="6.65" fill="#b4ffe4"/>
<rect x="206.94" y="180.50" width="4.67" height="6.65" fill="#e0ffea"/>
<rect x="210.61" y="180.50" width="4.67" height="6.65" fill="#e0ffea"/>
<rect x="214.27" y="180.50" width="4.67" height="6.65" fill="#e0ffea"/>
<rect x="217.94" y="180.50" width="4.67" height="6.65" fill="#ffffff"/>
<rect x="192.27" y="186.15" width="4.67" height="6.65" fill="#e0ffea"/>
<rect x="195.94" y="186.15" width="4.67" height="6.65" fill="#b4ffe4"/>
<rect x="199.60" y="186.15" width="4.67" height="6.65" fill="#ffffff"/>
<rect x="203.27" y="186.15" width="4.67" height="6.65" fill="#e0ffea"/>
<rect x="206.94" y="186.15" width="4.67" height="6.65" fill="#ffffff"/>
<rect x="210.61" y="186.15" width="4.67" height="6.65" fill="#ffffff"/>
<rect x="214.27" y="186.15" width="4.67" height="6.65" fill="#ffffff"/>
<rect x="217.94" y="186.15" width="4.67" height="6.65" fill="#e0ffea"/>
<rect x="221.61" y="186.15" width="4.67" height="6.65" fill="#ffffff"/>
<rect x="170.26" y="191.80" width="4.67" height="6.65" fill="#e0ffea"/>
<rect x="173.93" y="191.80" width="4.67" height="6.65" fill="#e0ffea"/>
<rect x="177.60" y="191.80" width="4.67" height="6.65" fill="#e0ffea"/>
<rect x="181.27" y="191.80" width="4.67" height="6.65" fill="#b4ffe4"/>
<rect x="184.93" y="191.80" width="4.67" height="6.65" fill="#e0ffea"/>
<rect x="188.60" y="191.80" width="4.67" height="6.65" fill="#e0ffea"/>
<rect x="192.27" y="191.80" width="4.67" height="6.65" fill="#e0ffea"/>
<rect x="195.94" y="191.80" width="4.67" height="6.65" fill="#e0ffea"/>
<rect x="199.60" y="191.80" width="4.67" height="6.65" fill="#ffffff"/>
<rect x="203.27" y="191.80" width="4.67" height="6.65" fill="#e0ffea"/>
<rect x="206.94" y="191.80" width="4.67" height="6.65" fill="#e0ffea"/>
<rect x="210.61" y="191.80" width="4.67" height="6.65" fill="#e0ffea"/>
<rect x="214.27" y="191.80" width="4.67" height="6.65" fill="#e0ffea"/>
<rect x="217.94" y="191.80" width="4.67" height="6.65" fill="#e0ffea"/>
<rect x="221.61" y="191.80" width="4.67" height="6.65" fill="#ffffff"/>
<rect x="225.28" y="191.80" width="4.67" height="6.65" fill="#e0ffea"/>
<rect x="228.94" y="191.80" width="4.67" height="6.65" fill="#e0ffea"/>
<rect x="232.61" y="191.80" width="4.67" height="6.65" fill="#ffffff"/>
<rect x="159.26" y="197.45" width="4.67" height="6.65" fill="#e0ffea"/>
<rect x="162.93" y="197.45" width="4.67" height="6.65" fill="#b4ffe4"/>
<rect x="166.59" y="197.45" width="4.67" height="6.65" fill="#e0ffea"/>
<rect x="170.26" y="197.45" width="4.67" height="6.65" fill="#59f79e"/>
<rect x="173.93" y="197.45" width="4.67" height="6.65" fill="#b4ffe4"/>
<rect x="177.60" y="197.45" width="4.67" height="6.65" fill="#e0ffea"/>
<rect x="181.27" y="197.45" width="4.67" height="6.65" fill="#59f79e"/>
<rect x="184.93" y="197.45" width="4.67" height="6.65" fill="#b4ffe4"/>
<rect x="188.60" y="197.45" width="4.67" height="6.65" fill="#59f79e"/>
<rect x="192.27" y="197.45" width="4.67" height="6.65" fill="#b4ffe4"/>
<rect x="195.94" y="197.45" width="4.67" height="6.65" fill="#87fd76"/>
<rect x="199.60" y="197.45" width="4.67" height="6.65" fill="#59f79e"/>
<rect x="203.27" y="197.45" width="4.67" height="6.65" fill="#b4ffe4"/>
<rect x="206.94" y="197.45" width="4.67" height="6.65" fill="#e0ffea"/>
<rect x="210.61" y="197.45" width="4.67" height="6.65" fill="#e0ffea"/>
<rect x="214.27" y="197.45" width="4.67" height="6.65" fill="#ffffff"/>
<rect x="217.94" y="197.45" width="4.67" height="6.65" fill="#e0ffea"/>
<rect x="221.61" y="197.45" width="4.67" height="6.65" fill="#e0ffea"/>
<rect x="225.28" y="197.45" width="4.67" height="6.65" fill="#e0ffea"/>
<rect x="228.94" y="197.45" width="4.67" height="6.65" fill="#ffffff"/>
<rect x="232.61" y="197.45" width="4.67" height="6.65" fill="#ffffff"/>
<rect x="155.59" y="203.10" width="4.67" height="6.65" fill="#b4ffe4"/>
<rect x="159.26" y="203.10" width="4.67" height="6.65" fill="#e0ffea"/>
<rect x="162.93" y="203.10" width="4.67" height="6.65" fill="#b4ffe4"/>
<rect x="166.59" y="203.10" width="4.67" height="6.65" fill="#b4ffe4"/>
<rect x="170.26" y="203.10" width="4.67" height="6.65" fill="#59f79e"/>
<rect x="173.93" y="203.10" width="4.67" height="6.65" fill="#b4ffe4"/>
<rect x="177.60" y="203.10" width="4.67" height="6.65" fill="#b4ffe4"/>
<rect x="181.27" y="203.10" width="4.67" height="6.65" fill="#b4ffe4"/>
<rect x="184.93" y="203.10" width="4.67" height="6.65" fill="#59f79e"/>
<rect x="188.60" y="203.10" width="4.67" height="6.65" fill="#b4ffe4"/>
<rect x="192.27" y="203.10" width="4.67" height="6.65" fill="#59f79e"/>
<rect x="195.94" y="203.10" width="4.67" height="6.65" fill="#b4ffe4"/>
<rect x="199.60" y="203.10" width="4.67" height="6.65" fill="#59f79e"/>
<rect x="203.27" y="203.10" width="4.67" height="6.65" fill="#e0ffea"/>
<rect x="206.94" y="203.10" width="4.67" height="6.65" fill="#59f79e"/>
<rect x="210.61" y="203.10" width="4.67" height="6.65" fill="#e0ffea"/>
<rect x="214.27" y="203.10" width="4.67" height="6.65" fill="#b4ffe4"/>
<rect x="217.94" y="203.10" width="4.67" height="6.65" fill="#e0ffea"/>
<rect x="221.61" y="203.10" width="4.67" height="6.65" fill="#e0ffea"/>
<rect x="225.28" y="203.10" width="4.67" height="6.65" fill="#ffffff"/>
<rect x="228.94" y="203.10" width="4.67" height="6.65" fill="#ffffff"/>
<rect x="232.61" y="203.10" width="4.67" height="6.65" fill="#e0ffea"/>
<rect x="236.28" y="203.10" width="4.67" height="6.65" fill="#ffffff"/>
<rect x="148.26" y="208.75" width="4.67" height="6.65" fill="#e0ffea"/>
<rect x="151.93" y="208.75" width="4.67" height="6.65" fill="#b4ffe4"/>
<rect x="155.59" y="208.75" width="4.67" height="6.65" fill="#b4ffe4"/>
<rect x="159.26" y="208.75" width="4.67" height="6.65" fill="#b4ffe4"/>
<rect x="162.93" y="208.75" width="4.67" height="6.65" fill="#b4ffe4"/>
<rect x="166.59" y="208.75" width="4.67" height="6.65" fill="#b4ffe4"/>
<rect x="170.26" y="208.75" width="4.67" height="6.65" fill="#59f79e"/>
<rect x="173.93" y="208.75" width="4.67" height="6.65" fill="#b4ffe4"/>
<rect x="177.60" y="208.75" width="4.67" height="6.65" fill="#b4ffe4"/>
<rect x="181.27" y="208.75" width="4.67" height="6.65" fill="#b4ffe4"/>
<rect x="184.93" y="208.75" width="4.67" height="6.65" fill="#87fd76"/>
<rect x="188.60" y="208.75" width="4.67" height="6.65" fill="#59f79e"/>
<rect x="192.27" y="208.75" width="4.67" height="6.65" fill="#59f79e"/>
<rect x="195.94" y="208.75" width="4.67" height="6.65" fill="#59f79e"/>
<rect x="199.60" y="208.75" width="4.67" height="6.65" fill="#b4ffe4"/>
<rect x="203.27" y="208.75" width="4.67" height="6.65" fill="#70fa8a"/>
<rect x="206.94" y="208.75" width="4.67" height="6.65" fill="#e0ffea"/>
<rect x="210.61" y="208.75" width="4.67" height="6.65" fill="#59f79e"/>
<rect x="214.27" y="208.75" width="4.67" height="6.65" fill="#b4ffe4"/>
<rect x="217.94" y="208.75" width="4.67" height="6.65" fill="#ffffff"/>
<rect x="221.61" y="208.75" width="4.67" height="6.65" fill="#e0ffea"/>
<rect x="225.28" y="208.75" width="4.67" height="6.65" fill="#b4ffe4"/>
<rect x="228.94" y="208.75" width="4.67" height="6.65" fill="#ffffff"/>
<rect x="232.61" y="208.75" width="4.67" height="6.65" fill="#ffffff"/>
<rect x="236.28" y="208.75" width="4.67" height="6.65" fill="#ffffff"/>
<rect x="144.59" y="214.40" width="4.67" height="6.65" fill="#59f79e"/>
<rect x="148.26" y="214.40" width="4.67" height="6.65" fill="#59f79e"/>
<rect x="151.93" y="214.40" width="4.67" height="6.65" fill="#b4ffe4"/>
<rect x="155.59" y="214.40" width="4.67" height="6.65" fill="#59f79e"/>
<rect x="159.26" y="214.40" width="4.67" height="6.65" fill="#b4ffe4"/>
<rect x="162.93" y="214.40" width="4.67" height="6.65" fill="#b4ffe4"/>
<rect x="166.59" y="214.40" width="4.67" height="6.65" fill="#59f79e"/>
<rect x="170.26" y="214.40" width="4.67" height="6.65" fill="#87fd76"/>
<rect x="173.93" y="214.40" width="4.67" height="6.65" fill="#59f79e"/>
<rect x="177.60" y="214.40" width="4.67" height="6.65" fill="#59f79e"/>
<rect x="181.27" y="214.40" width="4.67" height="6.65" fill="#b4ffe4"/>
<rect x="184.93" y="214.40" width="4.67" height="6.65" fill="#b4ffe4"/>
<rect x="188.60" y="214.40" width="4.67" height="6.65" fill="#e0ffea"/>
<rect x="192.27" y="214.40" width="4.67" height="6.65" fill="#b4ffe4"/>
<rect x="195.94" y="214.40" width="4.67" height="6.65" fill="#70fa8a"/>
<rect x="199.60" y="214.40" width="4.67" height="6.65" fill="#b4ffe4"/>
<rect x="203.27" y="214.40" width="4.67" height="6.65" fill="#59f79e"/>
<rect x="206.94" y="214.40" width="4.67" height="6.65" fill="#b4ffe4"/>
<rect x="210.61" y="214.40" width="4.67" height="6.65" fill="#e0ffea"/>
<rect x="214.27" y="214.40" width="4.67" height="6.65" fill="#e0ffea"/>
<rect x="217.94" y="214.40" width="4.67" height="6.65" fill="#ffffff"/>
<rect x="221.61" y="214.40" width="4.67" height="6.65" fill="#ffffff"/>
<rect x="225.28" y="214.40" width="4.67" height="6.65" fill="#ffffff"/>
<rect x="228.94" y="214.40" width="4.67" height="6.65" fill="#ffffff"/>
<rect x="137.25" y="220.05" width="4.67" height="6.65" fill="#e0ffea"/>
<rect x="140.92" y="220.05" width="4.67" height="6.65" fill="#59f79e"/>
<rect x="144.59" y="220.05" width="4.67" height="6.65" fill="#87fd76"/>
<rect x="148.26" y="220.05" width="4.67" height="6.65" fill="#87fd76"/>
<rect x="151.93" y="220.05" width="4.67" height="6.65" fill="#59f79e"/>
<rect x="155.59" y="220.05" width="4.67" height="6.65" fill="#87fd76"/>
<rect x="159.26" y="220.05" width="4.67" height="6.65" fill="#87fd76"/>
<rect x="162.93" y="220.05" width="4.67" height="6.65" fill="#87fd76"/>
<rect x="166.59" y="220.05" width="4.67" height="6.65" fill="#59f79e"/>
<rect x="170.26" y="220.05" width="4.67" height="6.65" fill="#b4ffe4"/>
<rect x="173.93" y="220.05" width="4.67" height="6.65" fill="#59f79e"/>
<rect x="177.60" y="220.05" width="4.67" height="6.65" fill="#b4ffe4"/>
<rect x="181.27" y="220.05" width="4.67" height="6.65" fill="#b4ffe4"/>
<rect x="184.93" y="220.05" width="4.67" height="6.65" fill="#b4ffe4"/>
<rect x="188.60" y="220.05" width="4.67" height="6.65" fill="#b4ffe4"/>
<rect x="192.27" y="220.05" width="4.67" height="6.65" fill="#b4ffe4"/>
<rect x="195.94" y="220.05" width="4.67" height="6.65" fill="#59f79e"/>
<rect x="199.60" y="220.05" width="4.67" height="6.65" fill="#59f79e"/>
<rect x="203.27" y="220.05" width="4.67" height="6.65" fill="#b4ffe4"/>
<rect x="206.94" y="220.05" width="4.67" height="6.65" fill="#e0ffea"/>
<rect x="210.61" y="220.05" width="4.67" height="6.65" fill="#e0ffea"/>
<rect x="214.27" y="220.05" width="4.67" height="6.65" fill="#e0ffea"/>
<rect x="217.94" y="220.05" width="4.67" height="6.65" fill="#ffffff"/>
<rect x="137.25" y="225.70" width="4.67" height="6.65" fill="#e0ffea"/>
<rect x="140.92" y="225.70" width="4.67" height="6.65" fill="#87fd76"/>
<rect x="144.59" y="225.70" width="4.67" height="6.65" fill="#a0ff5f"/>
<rect x="148.26" y="225.70" width="4.67" height="6.65" fill="#a0ff5f"/>
<rect x="151.93" y="225.70" width="4.67" height="6.65" fill="#a0ff5f"/>
<rect x="155.59" y="225.70" width="4.67" height="6.65" fill="#a0ff5f"/>
<rect x="159.26" y="225.70" width="4.67" height="6.65" fill="#87fd76"/>
<rect x="162.93" y="225.70" width="4.67" height="6.65" fill="#87fd76"/>
<rect x="166.59" y="225.70" width="4.67" height="6.65" fill="#b4ffe4"/>
<rect x="170.26" y="225.70" width="4.67" height="6.65" fill="#59f79e"/>
<rect x="173.93" y="225.70" width="4.67" height="6.65" fill="#59f79e"/>
<rect x="177.60" y="225.70" width="4.67" height="6.65" fill="#b4ffe4"/>
<rect x="181.27" y="225.70" width="4.67" height="6.65" fill="#b4ffe4"/>
<rect x="184.93" y="225.70" width="4.67" height="6.65" fill="#b4ffe4"/>
<rect x="188.60" y="225.70" width="4.67" height="6.65" fill="#b4ffe4"/>
<rect x="192.27" y="225.70" width="4.67" height="6.65" fill="#b4ffe4"/>
<rect x="195.94" y="225.70" width="4.67" height="6.65" fill="#b4ffe4"/>
<rect x="199.60" y="225.70" width="4.67" height="6.65" fill="#e0ffea"/>
<rect x="203.27" y="225.70" width="4.67" height="6.65" fill="#e0ffea"/>
<rect x="206.94" y="225.70" width="4.67" height="6.65" fill="#ffffff"/>
<rect x="210.61" y="225.70" width="4.67" height="6.65" fill="#ffffff"/>
<rect x="214.27" y="225.70" width="4.67" height="6.65" fill="#ffffff"/>
<rect x="217.94" y="225.70" width="4.67" height="6.65" fill="#ffffff"/>
<rect x="129.92" y="231.35" width="4.67" height="6.65" fill="#e0ffea"/>
<rect x="133.59" y="231.35" width="4.67" height="6.65" fill="#b4ffe4"/>
<rect x="137.25" y="231.35" width="4.67" height="6.65" fill="#87fd76"/>
<rect x="140.92" y="231.35" width="4.67" height="6.65" fill="#a0ff5f"/>
<rect x="144.59" y="231.35" width="4.67" height="6.65" fill="#beff41"/>
<rect x="148.26" y="231.35" width="4.67" height="6.65" fill="#beff41"/>
<rect x="151.93" y="231.35" width="4.67" height="6.65" fill="#a0ff5f"/>
<rect x="155.59" y="231.35" width="4.67" height="6.65" fill="#87fd76"/>
<rect x="159.26" y="231.35" width="4.67" height="6.65" fill="#87fd76"/>
<rect x="162.93" y="231.35" width="4.67" height="6.65" fill="#70fa8a"/>
<rect x="166.59" y="231.35" width="4.67" height="6.65" fill="#e0ffea"/>
<rect x="170.26" y="231.35" width="4.67" height="6.65" fill="#59f79e"/>
<rect x="173.93" y="231.35" width="4.67" height="6.65" fill="#b4ffe4"/>
<rect x="177.60" y="231.35" width="4.67" height="6.65" fill="#b4ffe4"/>
<rect x="181.27" y="231.35" width="4.67" height="6.65" fill="#b4ffe4"/>
<rect x="184.93" y="231.35" width="4.67" height="6.65" fill="#59f79e"/>
<rect x="188.60" y="231.35" width="4.67" height="6.65" fill="#e0ffea"/>
<rect x="192.27" y="231.35" width="4.67" height="6.65" fill="#e0ffea"/>
<rect x="195.94" y="231.35" width="4.67" height="6.65" fill="#ffffff"/>
<rect x="199.60" y="231.35" width="4.67" height="6.65" fill="#ffffff"/>
<rect x="203.27" y="231.35" width="4.67" height="6.65" fill="#ffffff"/>
<rect x="206.94" y="231.35" width="4.67" height="6.65" fill="#ffffff"/>
<rect x="126.25" y="237.00" width="4.67" height="6.65" fill="#b4ffe4"/>
<rect x="129.92" y="237.00" width="4.67" height="6.65" fill="#87fd76"/>
<rect x="133.59" y="237.00" width="4.67" height="6.65" fill="#87fd76"/>
<rect x="137.25" y="237.00" width="4.67" height="6.65" fill="#a0ff5f"/>
<rect x="140.92" y="237.00" width="4.67" height="6.65" fill="#deff21"/>
<rect x="144.59" y="237.00" width="4.67" height="6.65" fill="#deff21"/>
<rect x="148.26" y="237.00" width="4.67" height="6.65" fill="#beff41"/>
<rect x="151.93" y="237.00" width="4.67" height="6.65" fill="#a0ff5f"/>
<rect x="155.59" y="237.00" width="4.67" height="6.65" fill="#a0ff5f"/>
<rect x="159.26" y="237.00" width="4.67" height="6.65" fill="#87fd76"/>
<rect x="162.93" y="237.00" width="4.67" height="6.65" fill="#87fd76"/>
<rect x="166.59" y="237.00" width="4.67" height="6.65" fill="#59f79e"/>
<rect x="170.26" y="237.00" width="4.67" height="6.65" fill="#a0ff5f"/>
<rect x="173.93" y="237.00" width="4.67" height="6.65" fill="#59f79e"/>
<rect x="177.60" y="237.00" width="4.67" height="6.65" fill="#e0ffea"/>
<rect x="181.27" y="237.00" width="4.67" height="6.65" fill="#b4ffe4"/>
<rect x="184.93" y="237.00" width="4.67" height="6.65" fill="#e0ffea"/>
<rect x="188.60" y="237.00" width="4.67" height="6.65" fill="#b4ffe4"/>
<rect x="192.27" y="237.00" width="4.67" height="6.65" fill="#ffffff"/>
<rect x="195.94" y="237.00" width="4.67" height="6.65" fill="#ffffff"/>
<rect x="122.59" y="242.65" width="4.67" height="6.65" fill="#e0ffea"/>
<rect x="126.25" y="242.65" width="4.67" height="6.65" fill="#70fa8a"/>
<rect x="129.92" y="242.65" width="4.67" height="6.65" fill="#a0ff5f"/>
<rect x="133.59" y="242.65" width="4.67" height="6.65" fill="#a0ff5f"/>
<rect x="137.25" y="242.65" width="4.67" height="6.65" fill="#beff41"/>
<rect x="140.92" y="242.65" width="4.67" height="6.65" fill="#deff21"/>
<rect x="144.59" y="242.65" width="4.67" height="6.65" fill="#deff21"/>
<rect x="148.26" y="242.65" width="4.67" height="6.65" fill="#a0ff5f"/>
<rect x="151.93" y="242.65" width="4.67" height="6.65" fill="#87fd76"/>
<rect x="155.59" y="242.65" width="4.67" height="6.65" fill="#87fd76"/>
<rect x="159.26" y="242.65" width="4.67" height="6.65" fill="#87fd76"/>
<rect x="162.93" y="242.65" width="4.67" height="6.65" fill="#87fd76"/>
<rect x="166.59" y="242.65" width="4.67" height="6.65" fill="#b4ffe4"/>
<rect x="170.26" y="242.65" width="4.67" height="6.65" fill="#e0ffea"/>
<rect x="173.93" y="242.65" width="4.67" height="6.65" fill="#e0ffea"/>
<rect x="177.60" y="242.65" width="4.67" height="6.65" fill="#b4ffe4"/>
<rect x="181.27" y="242.65" width="4.67" height="6.65" fill="#e0ffea"/>
<rect x="184.93" y="242.65" width="4.67" height="6.65" fill="#b4ffe4"/>
<rect x="188.60" y="242.65" width="4.67" height="6.65" fill="#ffffff"/>
<rect x="192.27" y="242.65" width="4.67" height="6.65" fill="#ffffff"/>
<rect x="104.25" y="248.30" width="4.67" height="6.65" fill="#e0ffea"/>
<rect x="107.91" y="248.30" width="4.67" height="6.65" fill="#ffffff"/>
<rect x="115.25" y="248.30" width="4.67" height="6.65" fill="#b4ffe4"/>
<rect x="118.92" y="248.30" width="4.67" height="6.65" fill="#70fa8a"/>
<rect x="122.59" y="248.30" width="4.67" height="6.65" fill="#a0ff5f"/>
<rect x="126.25" y="248.30" width="4.67" height="6.65" fill="#deff21"/>
<rect x="129.92" y="248.30" width="4.67" height="6.65" fill="#fbff04"/>
<rect x="133.59" y="248.30" width="4.67" height="6.65" fill="#ffb500"/>
<rect x="137.25" y="248.30" width="4.67" height="6.65" fill="#fbff04"/>
<rect x="140.92" y="248.30" width="4.67" height="6.65" fill="#deff21"/>
<rect x="144.59" y="248.30" width="4.67" height="6.65" fill="#beff41"/>
<rect x="148.26" y="248.30" width="4.67" height="6.65" fill="#a0ff5f"/>
<rect x="151.93" y="248.30" width="4.67" height="6.65" fill="#70fa8a"/>
<rect x="155.59" y="248.30" width="4.67" height="6.65" fill="#b4ffe4"/>
<rect x="159.26" y="248.30" width="4.67" height="6.65" fill="#b4ffe4"/>
<rect x="162.93" y="248.30" width="4.67" height="6.65" fill="#e0ffea"/>
<rect x="166.59" y="248.30" width="4.67" height="6.65" fill="#b4ffe4"/>
<rect x="170.26" y="248.30" width="4.67" height="6.65" fill="#e0ffea"/>
<rect x="173.93" y="248.30" width="4.67" height="6.65" fill="#b4ffe4"/>
<rect x="177.60" y="248.30" width="4.67" height="6.65" fill="#b4ffe4"/>
<rect x="181.27" y="248.30" width="4.67" height="6.65" fill="#b4ffe4"/>
<rect x="184.93" y="248.30" width="4.67" height="6.65" fill="#e0ffea"/>
<rect x="188.60" y="248.30" width="4.67" height="6.65" fill="#e0ffea"/>
<rect x="192.27" y="248.30" width="4.67" height="6.65" fill="#ffffff"/>
<rect x="104.25" y="253.95" width="4.67" height="6.65" fill="#e0ffea"/>
<rect x="107.91" y="253.95" width="4.67" height="6.65" fill="#e0ffea"/>
<rect x="111.58" y="253.95" width="4.67" height="6.65" fill="#b4ffe4"/>
<rect x="115.25" y="253.95" width="4.67" height="6.65" fill="#a0ff5f"/>
<rect x="118.92" y="253.95" width="4.67" height="6.65" fill="#beff41"/>
<rect x="122.59" y="253.95" width="4.67" height="6.65" fill="#deff21"/>
<rect x="126.25" y="253.95" width="4.67" height="6.65" fill="#fbff04"/>
<rect x="129.92" y="253.95" width="4.67" height="6.65" fill="#ffd200"/>
<rect x="133.59" y="253.95" width="4.67" height="6.65" fill="#fbff04"/>
<rect x="137.25" y="253.95" width="4.67" height="6.65" fill="#deff21"/>
<rect x="140.92" y="253.95" width="4.67" height="6.65" fill="#beff41"/>
<rect x="144.59" y="253.95" width="4.67" height="6.65" fill="#a0ff5f"/>
<rect x="148.26" y="253.95" width="4.67" height="6.65" fill="#a0ff5f"/>
<rect x="151.93" y="253.95" width="4.67" height="6.65" fill="#87fd76"/>
<rect x="155.59" y="253.95" width="4.67" height="6.65" fill="#b4ffe4"/>
<rect x="159.26" y="253.95" width="4.67" height="6.65" fill="#59f79e"/>
<rect x="162.93" y="253.95" width="4.67" height="6.65" fill="#59f79e"/>
<rect x="166.59" y="253.95" width="4.67" height="6.65" fill="#59f79e"/>
<rect x="170.26" y="253.95" width="4.67" height="6.65" fill="#59f79e"/>
<rect x="173.93" y="253.95" width="4.67" height="6.65" fill="#e0ffea"/>
<rect x="177.60" y="253.95" width="4.67" height="6.65" fill="#e0ffea"/>
<rect x="181.27" y="253.95" width="4.67" height="6.65" fill="#e0ffea"/>
<rect x="184.93" y="253.95" width="4.67" height="6.65" fill="#e0ffea"/>
<rect x="188.60" y="253.95" width="4.67" height="6.65" fill="#ffffff"/>
<rect x="192.27" y="253.95" width="4.67" height="6.65" fill="#ffffff"/>
<rect x="104.25" y="259.60" width="4.67" height="6.65" fill="#ffffff"/>
<rect x="107.91" y="259.60" width="4.67" height="6.65" fill="#59f79e"/>
<rect x="111.58" y="259.60" width="4.67" height="6.65" fill="#a0ff5f"/>
<rect x="115.25" y="259.60" width="4.67" height="6.65" fill="#deff21"/>
<rect x="118.92" y="259.60" width="4.67" height="6.65" fill="#fbff04"/>
<rect x="122.59" y="259.60" width="4.67" height="6.65" fill="#deff21"/>
<rect x="126.25" y="259.60" width="4.67" height="6.65" fill="#ffd200"/>
<rect x="129.92" y="259.60" width="4.67" height="6.65" fill="#fbff04"/>
<rect x="133.59" y="259.60" width="4.67" height="6.65" fill="#beff41"/>
<rect x="137.25" y="259.60" width="4.67" height="6.65" fill="#a0ff5f"/>
<rect x="140.92" y="259.60" width="4.67" height="6.65" fill="#87fd76"/>
<rect x="144.59" y="259.60" width="4.67" height="6.65" fill="#87fd76"/>
<rect x="148.26" y="259.60" width="4.67" height="6.65" fill="#70fa8a"/>
<rect x="151.93" y="259.60" width="4.67" height="6.65" fill="#87fd76"/>
<rect x="155.59" y="259.60" width="4.67" height="6.65" fill="#a0ff5f"/>
<rect x="159.26" y="259.60" width="4.67" height="6.65" fill="#70fa8a"/>
<rect x="162.93" y="259.60" width="4.67" height="6.65" fill="#59f79e"/>
<rect x="166.59" y="259.60" width="4.67" height="6.65" fill="#b4ffe4"/>
<rect x="170.26" y="259.60" width="4.67" height="6.65" fill="#e0ffea"/>
<rect x="173.93" y="259.60" width="4.67" height="6.65" fill="#e0ffea"/>
<rect x="177.60" y="259.60" width="4.67" height="6.65" fill="#e0ffea"/>
<rect x="181.27" y="259.60" width="4.67" height="6.65" fill="#e0ffea"/>
<rect x="184.93" y="259.60" width="4.67" height="6.65" fill="#ffffff"/>
<rect x="188.60" y="259.60" width="4.67" height="6.65" fill="#e0ffea"/>
<rect x="192.27" y="259.60" width="4.67" height="6.65" fill="#ffffff"/>
<rect x="100.58" y="265.25" width="4.67" height="6.65" fill="#e0ffea"/>
<rect x="104.25" y="265.25" width="4.67" height="6.65" fill="#87fd76"/>
<rect x="107.91" y="265.25" width="4.67" height="6.65" fill="#a0ff5f"/>
<rect x="111.58" y="265.25" width="4.67" height="6.65" fill="#beff41"/>
<rect x="115.25" y="265.25" width="4.67" height="6.65" fill="#deff21"/>
<rect x="118.92" y="265.25" width="4.67" height="6.65" fill="#deff21"/>
<rect x="122.59" y="265.25" width="4.67" height="6.65" fill="#beff41"/>
<rect x="126.25" y="265.25" width="4.67" height="6.65" fill="#beff41"/>
<rect x="129.92" y="265.25" width="4.67" height="6.65" fill="#a0ff5f"/>
<rect x="133.59" y="265.25" width="4.67" height="6.65" fill="#a0ff5f"/>
<rect x="137.25" y="265.25" width="4.67" height="6.65" fill="#87fd76"/>
<rect x="140.92" y="265.25" width="4.67" height="6.65" fill="#87fd76"/>
<rect x="144.59" y="265.25" width="4.67" height="6.65" fill="#70fa8a"/>
<rect x="148.26" y="265.25" width="4.67" height="6.65" fill="#b4ffe4"/>
<rect x="151.93" y="265.25" width="4.67" height="6.65" fill="#70fa8a"/>
<rect x="155.59" y="265.25" width="4.67" height="6.65" fill="#59f79e"/>
<rect x="159.26" y="265.25" width="4.67" height="6.65" fill="#b4ffe4"/>
<rect x="162.93" y="265.25" width="4.67" height="6.65" fill="#b4ffe4"/>
<rect x="166.59" y="265.25" width="4.67" height="6.65" fill="#b4ffe4"/>
<rect x="170.26" y="265.25" width="4.67" height="6.65" fill="#ffffff"/>
<rect x="173.93" y="265.25" width="4.67" height="6.65" fill="#e0ffea"/>
<rect x="177.60" y="265.25" width="4.67" height="6.65" fill="#e0ffea"/>
<rect x="181.27" y="265.25" width="4.67" height="6.65" fill="#e0ffea"/>
<rect x="184.93" y="265.25" width="4.67" height="6.65" fill="#ffffff"/>
<rect x="188.60" y="265.25" width="4.67" height="6.65" fill="#ffffff"/>
<rect x="192.27" y="265.25" width="4.67" height="6.65" fill="#ffffff"/>
<rect x="100.58" y="270.90" width="4.67" height="6.65" fill="#87fd76"/>
<rect x="104.25" y="270.90" width="4.67" height="6.65" fill="#70fa8a"/>
<rect x="107.91" y="270.90" width="4.67" height="6.65" fill="#a0ff5f"/>
<rect x="111.58" y="270.90" width="4.67" height="6.65" fill="#a0ff5f"/>
<rect x="115.25" y="270.90" width="4.67" height="6.65" fill="#beff41"/>
<rect x="118.92" y="270.90" width="4.67" height="6.65" fill="#a0ff5f"/>
<rect x="122.59" y="270.90" width="4.67" height="6.65" fill="#beff41"/>
<rect x="126.25" y="270.90" width="4.67" height="6.65" fill="#beff41"/>
<rect x="129.92" y="270.90" width="4.67" height="6.65" fill="#a0ff5f"/>
<rect x="133.59" y="270.90" width="4.67" height="6.65" fill="#87fd76"/>
<rect x="137.25" y="270.90" width="4.67" height="6.65" fill="#70fa8a"/>
<rect x="140.92" y="270.90" width="4.67" height="6.65" fill="#59f79e"/>
<rect x="144.59" y="270.90" width="4.67" height="6.65" fill="#b4ffe4"/>
<rect x="148.26" y="270.90" width="4.67" height="6.65" fill="#b4ffe4"/>
<rect x="151.93" y="270.90" width="4.67" height="6.65" fill="#b4ffe4"/>
<rect x="155.59" y="270.90" width="4.67" height="6.65" fill="#b4ffe4"/>
<rect x="159.26" y="270.90" width="4.67" height="6.65" fill="#b4ffe4"/>
<rect x="162.93" y="270.90" width="4.67" height="6.65" fill="#b4ffe4"/>
<rect x="166.59" y="270.90" width="4.67" height="6.65" fill="#59f79e"/>
<rect x="170.26" y="270.90" width="4.67" height="6.65" fill="#b4ffe4"/>
<rect x="173.93" y="270.90" width="4.67" height="6.65" fill="#ffffff"/>
<rect x="177.60" y="270.90" width="4.67" height="6.65" fill="#ffffff"/>
<rect x="181.27" y="270.90" width="4.67" height="6.65" fill="#ffffff"/>
<rect x="184.93" y="270.90" width="4.67" height="6.65" fill="#ffffff"/>
<rect x="85.91" y="276.55" width="4.67" height="6.65" fill="#e0ffea"/>
<rect x="89.58" y="276.55" width="4.67" height="6.65" fill="#ffffff"/>
<rect x="96.91" y="276.55" width="4.67" height="6.65" fill="#e0ffea"/>
<rect x="100.58" y="276.55" width="4.67" height="6.65" fill="#b4ffe4"/>
<rect x="104.25" y="276.55" width="4.67" height="6.65" fill="#e0ffea"/>
<rect x="107.91" y="276.55" width="4.67" height="6.65" fill="#59f79e"/>
<rect x="111.58" y="276.55" width="4.67" height="6.65" fill="#beff41"/>
<rect x="115.25" y="276.55" width="4.67" height="6.65" fill="#fbff04"/>
<rect x="118.92" y="276.55" width="4.67" height="6.65" fill="#deff21"/>
<rect x="122.59" y="276.55" width="4.67" height="6.65" fill="#a0ff5f"/>
<rect x="126.25" y="276.55" width="4.67" height="6.65" fill="#b4ffe4"/>
<rect x="129.92" y="276.55" width="4.67" height="6.65" fill="#e0ffea"/>
<rect x="133.59" y="276.55" width="4.67" height="6.65" fill="#e0ffea"/>
<rect x="137.25" y="276.55" width="4.67" height="6.65" fill="#b4ffe4"/>
<rect x="140.92" y="276.55" width="4.67" height="6.65" fill="#b4ffe4"/>
<rect x="144.59" y="276.55" width="4.67" height="6.65" fill="#b4ffe4"/>
<rect x="148.26" y="276.55" width="4.67" height="6.65" fill="#87fd76"/>
<rect x="151.93" y="276.55" width="4.67" height="6.65" fill="#b4ffe4"/>
<rect x="155.59" y="276.55" width="4.67" height="6.65" fill="#e0ffea"/>
<rect x="159.26" y="276.55" width="4.67" height="6.65" fill="#e0ffea"/>
<rect x="162.93" y="276.55" width="4.67" height="6.65" fill="#e0ffea"/>
<rect x="166.59" y="276.55" width="4.67" height="6.65" fill="#ffffff"/>
<rect x="170.26" y="276.55" width="4.67" height="6.65" fill="#e0ffea"/>
<rect x="173.93" y="276.55" width="4.67" height="6.65" fill="#ffffff"/>
<rect x="78.57" y="282.20" width="4.67" height="6.65" fill="#59f79e"/>
<rect x="82.24" y="282.20" width="4.67" height="6.65" fill="#e0ffea"/>
<rect x="85.91" y="282.20" width="4.67" height="6.65" fill="#ffffff"/>
<rect x="89.58" y="282.20" width="4.67" height="6.65" fill="#ffffff"/>
<rect x="93.25" y="282.20" width="4.67" height="6.65" fill="#e0ffea"/>
<rect x="96.91" y="282.20" width="4.67" height="6.65" fill="#59f79e"/>
<rect x="100.58" y="282.20" width="4.67" height="6.65" fill="#70fa8a"/>
<rect x="104.25" y="282.20" width="4.67" height="6.65" fill="#87fd76"/>
<rect x="107.91" y="282.20" width="4.67" height="6.65" fill="#a0ff5f"/>
<rect x="111.58" y="282.20" width="4.67" height="6.65" fill="#87fd76"/>
<rect x="115.25" y="282.20" width="4.67" height="6.65" fill="#70fa8a"/>
<rect x="118.92" y="282.20" width="4.67" height="6.65" fill="#59f79e"/>
<rect x="122.59" y="282.20" width="4.67" height="6.65" fill="#b4ffe4"/>
<rect x="126.25" y="282.20" width="4.67" height="6.65" fill="#e0ffea"/>
<rect x="129.92" y="282.20" width="4.67" height="6.65" fill="#b4ffe4"/>
<rect x="133.59" y="282.20" width="4.67" height="6.65" fill="#b4ffe4"/>
<rect x="137.25" y="282.20" width="4.67" height="6.65" fill="#b4ffe4"/>
<rect x="140.92" y="282.20" width="4.67" height="6.65" fill="#b4ffe4"/>
<rect x="144.59" y="282.20" width="4.67" height="6.65" fill="#e0ffea"/>
<rect x="148.26" y="282.20" width="4.67" height="6.65" fill="#e0ffea"/>
<rect x="151.93" y="282.20" width="4.67" height="6.65" fill="#b4ffe4"/>
<rect x="155.59" y="282.20" width="4.67" height="6.65" fill="#ffffff"/>
<rect x="159.26" y="282.20" width="4.67" height="6.65" fill="#ffffff"/>
<rect x="162.93" y="282.20" width="4.67" height="6.65" fill="#ffffff"/>
<rect x="166.59" y="282.20" width="4.67" height="6.65" fill="#ffffff"/>
<rect x="170.26" y="282.20" width="4.67" height="6.65" fill="#ffffff"/>
<rect x="173.93" y="282.20" width="4.67" height="6.65" fill="#ffffff"/>
<rect x="78.57" y="287.85" width="4.67" height="6.65" fill="#ffffff"/>
<rect x="82.24" y="287.85" width="4.67" height="6.65" fill="#ffffff"/>
<rect x="85.91" y="287.85" width="4.67" height="6.65" fill="#ffffff"/>
<rect x="93.25" y="287.85" width="4.67" height="6.65" fill="#ffffff"/>
<rect x="96.91" y="287.85" width="4.67" height="6.65" fill="#ffffff"/>
<rect x="100.58" y="287.85" width="4.67" height="6.65" fill="#ffffff"/>
<rect x="104.25" y="287.85" width="4.67" height="6.65" fill="#ffffff"/>
<rect x="107.91" y="287.85" width="4.67" height="6.65" fill="#e0ffea"/>
<rect x="111.58" y="287.85" width="4.67" height="6.65" fill="#e0ffea"/>
<rect x="115.25" y="287.85" width="4.67" height="6.65" fill="#ffffff"/>
<rect x="118.92" y="287.85" width="4.67" height="6.65" fill="#e0ffea"/>
<rect x="122.59" y="287.85" width="4.67" height="6.65" fill="#ffffff"/>
<rect x="126.25" y="287.85" width="4.67" height="6.65" fill="#e0ffea"/>
<rect x="129.92" y="287.85" width="4.67" height="6.65" fill="#ffffff"/>
<rect x="133.59" y="287.85" width="4.67" height="6.65" fill="#ffffff"/>
<rect x="137.25" y="287.85" width="4.67" height="6.65" fill="#ffffff"/>
<rect x="140.92" y="287.85" width="4.67" height="6.65" fill="#ffffff"/>
<rect x="144.59" y="287.85" width="4.67" height="6.65" fill="#ffffff"/>
<rect x="148.26" y="287.85" width="4.67" height="6.65" fill="#ffffff"/>
<rect x="151.93" y="287.85" width="4.67" height="6.65" fill="#ffffff"/>
<rect x="155.59" y="287.85" width="4.67" height="6.65" fill="#ffffff"/>
<rect x="107.91" y="293.50" width="4.67" height="6.65" fill="#ffffff"/>
<rect x="111.58" y="293.50" width="4.67" height="6.65" fill="#ffffff"/>
<rect x="115.25" y="293.50" width="4.67" height="6.65" fill="#ffffff"/>
<rect x="118.92" y="293.50" width="4.67" height="6.65" fill="#ffffff"/>
<rect x="122.59" y="293.50" width="4.67" height="6.65" fill="#ffffff"/>
<rect x="126.25" y="293.50" width="4.67" height="6.65" fill="#ffffff"/>
<rect x="129.92" y="293.50" width="4.67" height="6.65" fill="#ffffff"/>
</g>
<path d="M78.39 180.50V350.00M115.07 180.50V350.00M151.75 180.50V350.00M188.42 180.50V350.00M225.09 180.50V350.00M41.90 293.50H243.61M41.90 237.50H243.61" stroke="#262626" stroke-opacity="0.13" stroke-width="1" fill="none"/>
<path d="M41.90 350.00v-2.2M41.90 180.50v2.2M78.57 350.00v-2.2M78.57 180.50v2.2M115.25 350.00v-2.2M115.25 180.50v2.2M151.92 350.00v-2.2M151.92 180.50v2.2M188.60 350.00v-2.2M188.60 180.50v2.2M225.28 350.00v-2.2M225.28 180.50v2.2M41.90 350.00h2.2M243.61 350.00h-2.2M41.90 293.50h2.2M243.61 293.50h-2.2M41.90 237.00h2.2M243.61 237.00h-2.2M41.90 180.50h2.2M243.61 180.50h-2.2" stroke="#262626" stroke-opacity="0.8" stroke-width="0.6" fill="none"/>
<rect x="41.5" y="180.5" width="202.0" height="169.0" fill="none" stroke="#262626" stroke-opacity="0.47" stroke-width="1"/>
<text x="42.6" y="191.0" font-size="10" fill="#000">DC-8 BL</text>
<g>
<rect x="368.96" y="191.80" width="4.67" height="6.65" fill="#e0ffea"/>
<rect x="372.63" y="191.80" width="4.67" height="6.65" fill="#ffffff"/>
<rect x="368.96" y="197.45" width="4.67" height="6.65" fill="#ffffff"/>
<rect x="372.63" y="197.45" width="4.67" height="6.65" fill="#ffffff"/>
<rect x="368.96" y="203.10" width="4.67" height="6.65" fill="#e0ffea"/>
<rect x="372.63" y="203.10" width="4.67" height="6.65" fill="#e0ffea"/>
<rect x="376.29" y="203.10" width="4.67" height="6.65" fill="#e0ffea"/>
<rect x="379.96" y="203.10" width="4.67" height="6.65" fill="#ffffff"/>
<rect x="390.97" y="203.10" width="4.67" height="6.65" fill="#e0ffea"/>
<rect x="394.63" y="203.10" width="4.67" height="6.65" fill="#e0ffea"/>
<rect x="398.30" y="203.10" width="4.67" height="6.65" fill="#ffffff"/>
<rect x="354.29" y="208.75" width="4.67" height="6.65" fill="#e0ffea"/>
<rect x="357.96" y="208.75" width="4.67" height="6.65" fill="#e0ffea"/>
<rect x="361.62" y="208.75" width="4.67" height="6.65" fill="#e0ffea"/>
<rect x="365.29" y="208.75" width="4.67" height="6.65" fill="#e0ffea"/>
<rect x="368.96" y="208.75" width="4.67" height="6.65" fill="#e0ffea"/>
<rect x="372.63" y="208.75" width="4.67" height="6.65" fill="#b4ffe4"/>
<rect x="376.29" y="208.75" width="4.67" height="6.65" fill="#e0ffea"/>
<rect x="379.96" y="208.75" width="4.67" height="6.65" fill="#e0ffea"/>
<rect x="383.63" y="208.75" width="4.67" height="6.65" fill="#ffffff"/>
<rect x="390.97" y="208.75" width="4.67" height="6.65" fill="#e0ffea"/>
<rect x="394.63" y="208.75" width="4.67" height="6.65" fill="#e0ffea"/>
<rect x="398.30" y="208.75" width="4.67" height="6.65" fill="#e0ffea"/>
<rect x="401.97" y="208.75" width="4.67" height="6.65" fill="#ffffff"/>
<rect x="350.62" y="214.40" width="4.67" height="6.65" fill="#e0ffea"/>
<rect x="354.29" y="214.40" width="4.67" height="6.65" fill="#e0ffea"/>
<rect x="357.96" y="214.40" width="4.67" height="6.65" fill="#ffffff"/>
<rect x="361.62" y="214.40" width="4.67" height="6.65" fill="#e0ffea"/>
<rect x="365.29" y="214.40" width="4.67" height="6.65" fill="#ffffff"/>
<rect x="368.96" y="214.40" width="4.67" height="6.65" fill="#59f79e"/>
<rect x="372.63" y="214.40" width="4.67" height="6.65" fill="#e0ffea"/>
<rect x="376.29" y="214.40" width="4.67" height="6.65" fill="#b4ffe4"/>
<rect x="379.96" y="214.40" width="4.67" height="6.65" fill="#e0ffea"/>
<rect x="383.63" y="214.40" width="4.67" height="6.65" fill="#e0ffea"/>
<rect x="387.30" y="214.40" width="4.67" height="6.65" fill="#ffffff"/>
<rect x="390.97" y="214.40" width="4.67" height="6.65" fill="#e0ffea"/>
<rect x="394.63" y="214.40" width="4.67" height="6.65" fill="#ffffff"/>
<rect x="398.30" y="214.40" width="4.67" height="6.65" fill="#e0ffea"/>
<rect x="401.97" y="214.40" width="4.67" height="6.65" fill="#ffffff"/>
<rect x="405.63" y="214.40" width="4.67" height="6.65" fill="#e0ffea"/>
<rect x="409.30" y="214.40" width="4.67" height="6.65" fill="#ffffff"/>
<rect x="339.62" y="220.05" width="4.67" height="6.65" fill="#e0ffea"/>
<rect x="343.29" y="220.05" width="4.67" height="6.65" fill="#59f79e"/>
<rect x="346.95" y="220.05" width="4.67" height="6.65" fill="#ffffff"/>
<rect x="350.62" y="220.05" width="4.67" height="6.65" fill="#e0ffea"/>
<rect x="354.29" y="220.05" width="4.67" height="6.65" fill="#ffffff"/>
<rect x="357.96" y="220.05" width="4.67" height="6.65" fill="#ffffff"/>
<rect x="361.62" y="220.05" width="4.67" height="6.65" fill="#b4ffe4"/>
<rect x="365.29" y="220.05" width="4.67" height="6.65" fill="#87fd76"/>
<rect x="368.96" y="220.05" width="4.67" height="6.65" fill="#59f79e"/>
<rect x="372.63" y="220.05" width="4.67" height="6.65" fill="#b4ffe4"/>
<rect x="376.29" y="220.05" width="4.67" height="6.65" fill="#59f79e"/>
<rect x="379.96" y="220.05" width="4.67" height="6.65" fill="#b4ffe4"/>
<rect x="383.63" y="220.05" width="4.67" height="6.65" fill="#e0ffea"/>
<rect x="387.30" y="220.05" width="4.67" height="6.65" fill="#e0ffea"/>
<rect x="390.97" y="220.05" width="4.67" height="6.65" fill="#ffffff"/>
<rect x="394.63" y="220.05" width="4.67" height="6.65" fill="#e0ffea"/>
<rect x="398.30" y="220.05" width="4.67" height="6.65" fill="#ffffff"/>
<rect x="401.97" y="220.05" width="4.67" height="6.65" fill="#ffffff"/>
<rect x="405.63" y="220.05" width="4.67" height="6.65" fill="#ffffff"/>
<rect x="409.30" y="220.05" width="4.67" height="6.65" fill="#ffffff"/>
<rect x="328.62" y="225.70" width="4.67" height="6.65" fill="#59f79e"/>
<rect x="332.28" y="225.70" width="4.67" height="6.65" fill="#70fa8a"/>
<rect x="335.95" y="225.70" width="4.67" height="6.65" fill="#a0ff5f"/>
<rect x="339.62" y="225.70" width="4.67" height="6.65" fill="#70fa8a"/>
<rect x="343.29" y="225.70" width="4.67" height="6.65" fill="#b4ffe4"/>
<rect x="346.95" y="225.70" width="4.67" height="6.65" fill="#b4ffe4"/>
<rect x="350.62" y="225.70" width="4.67" height="6.65" fill="#e0ffea"/>
<rect x="354.29" y="225.70" width="4.67" height="6.65" fill="#e0ffea"/>
<rect x="357.96" y="225.70" width="4.67" height="6.65" fill="#e0ffea"/>
<rect x="361.62" y="225.70" width="4.67" height="6.65" fill="#87fd76"/>
<rect x="365.29" y="225.70" width="4.67" height="6.65" fill="#a0ff5f"/>
<rect x="368.96" y="225.70" width="4.67" height="6.65" fill="#70fa8a"/>
<rect x="372.63" y="225.70" width="4.67" height="6.65" fill="#59f79e"/>
<rect x="376.29" y="225.70" width="4.67" height="6.65" fill="#b4ffe4"/>
<rect x="379.96" y="225.70" width="4.67" height="6.65" fill="#e0ffea"/>
<rect x="383.63" y="225.70" width="4.67" height="6.65" fill="#ffffff"/>
<rect x="387.30" y="225.70" width="4.67" height="6.65" fill="#ffffff"/>
<rect x="390.97" y="225.70" width="4.67" height="6.65" fill="#e0ffea"/>
<rect x="394.63" y="225.70" width="4.67" height="6.65" fill="#ffffff"/>
<rect x="398.30" y="225.70" width="4.67" height="6.65" fill="#ffffff"/>
<rect x="328.62" y="231.35" width="4.67" height="6.65" fill="#59f79e"/>
<rect x="332.28" y="231.35" width="4.67" height="6.65" fill="#87fd76"/>
<rect x="335.95" y="231.35" width="4.67" height="6.65" fill="#a0ff5f"/>
<rect x="339.62" y="231.35" width="4.67" height="6.65" fill="#70fa8a"/>
<rect x="343.29" y="231.35" width="4.67" height="6.65" fill="#e0ffea"/>
<rect x="346.95" y="231.35" width="4.67" height="6.65" fill="#b4ffe4"/>
<rect x="350.62" y="231.35" width="4.67" height="6.65" fill="#b4ffe4"/>
<rect x="354.29" y="231.35" width="4.67" height="6.65" fill="#59f79e"/>
<rect x="357.96" y="231.35" width="4.67" height="6.65" fill="#59f79e"/>
<rect x="361.62" y="231.35" width="4.67" height="6.65" fill="#59f79e"/>
<rect x="365.29" y="231.35" width="4.67" height="6.65" fill="#b4ffe4"/>
<rect x="368.96" y="231.35" width="4.67" height="6.65" fill="#59f79e"/>
<rect x="372.63" y="231.35" width="4.67" height="6.65" fill="#e0ffea"/>
<rect x="376.29" y="231.35" width="4.67" height="6.65" fill="#e0ffea"/>
<rect x="379.96" y="231.35" width="4.67" height="6.65" fill="#ffffff"/>
<rect x="383.63" y="231.35" width="4.67" height="6.65" fill="#ffffff"/>
<rect x="387.30" y="231.35" width="4.67" height="6.65" fill="#e0ffea"/>
<rect x="390.97" y="231.35" width="4.67" height="6.65" fill="#ffffff"/>
<rect x="394.63" y="231.35" width="4.67" height="6.65" fill="#ffffff"/>
<rect x="321.28" y="237.00" width="4.67" height="6.65" fill="#87fd76"/>
<rect x="324.95" y="237.00" width="4.67" height="6.65" fill="#a0ff5f"/>
<rect x="328.62" y="237.00" width="4.67" height="6.65" fill="#70fa8a"/>
<rect x="332.28" y="237.00" width="4.67" height="6.65" fill="#87fd76"/>
<rect x="335.95" y="237.00" width="4.67" height="6.65" fill="#87fd76"/>
<rect x="339.62" y="237.00" width="4.67" height="6.65" fill="#70fa8a"/>
<rect x="343.29" y="237.00" width="4.67" height="6.65" fill="#87fd76"/>
<rect x="346.95" y="237.00" width="4.67" height="6.65" fill="#87fd76"/>
<rect x="350.62" y="237.00" width="4.67" height="6.65" fill="#87fd76"/>
<rect x="354.29" y="237.00" width="4.67" height="6.65" fill="#87fd76"/>
<rect x="357.96" y="237.00" width="4.67" height="6.65" fill="#59f79e"/>
<rect x="361.62" y="237.00" width="4.67" height="6.65" fill="#e0ffea"/>
<rect x="365.29" y="237.00" width="4.67" height="6.65" fill="#e0ffea"/>
<rect x="368.96" y="237.00" width="4.67" height="6.65" fill="#ffffff"/>
<rect x="372.63" y="237.00" width="4.67" height="6.65" fill="#e0ffea"/>
<rect x="376.29" y="237.00" width="4.67" height="6.65" fill="#e0ffea"/>
<rect x="379.96" y="237.00" width="4.67" height="6.65" fill="#ffffff"/>
<rect x="387.30" y="237.00" width="4.67" height="6.65" fill="#ffffff"/>
<rect x="390.97" y="237.00" width="4.67" height="6.65" fill="#ffffff"/>
<rect x="302.94" y="242.65" width="4.67" height="6.65" fill="#b4ffe4"/>
<rect x="306.61" y="242.65" width="4.67" height="6.65" fill="#59f79e"/>
<rect x="310.28" y="242.65" width="4.67" height="6.65" fill="#ffffff"/>
<rect x="317.62" y="242.65" width="4.67" height="6.65" fill="#87fd76"/>
<rect x="321.28" y="242.65" width="4.67" height="6.65" fill="#a0ff5f"/>
<rect x="324.95" y="242.65" width="4.67" height="6.65" fill="#beff41"/>
<rect x="328.62" y="242.65" width="4.67" height="6.65" fill="#b4ffe4"/>
<rect x="332.28" y="242.65" width="4.67" height="6.65" fill="#b4ffe4"/>
<rect x="335.95" y="242.65" width="4.67" height="6.65" fill="#87fd76"/>
<rect x="339.62" y="242.65" width="4.67" height="6.65" fill="#a0ff5f"/>
<rect x="343.29" y="242.65" width="4.67" height="6.65" fill="#deff21"/>
<rect x="346.95" y="242.65" width="4.67" height="6.65" fill="#a0ff5f"/>
<rect x="350.62" y="242.65" width="4.67" height="6.65" fill="#87fd76"/>
<rect x="354.29" y="242.65" width="4.67" height="6.65" fill="#b4ffe4"/>
<rect x="357.96" y="242.65" width="4.67" height="6.65" fill="#e0ffea"/>
<rect x="361.62" y="242.65" width="4.67" height="6.65" fill="#ffffff"/>
<rect x="365.29" y="242.65" width="4.67" height="6.65" fill="#e0ffea"/>
<rect x="368.96" y="242.65" width="4.67" height="6.65" fill="#ffffff"/>
<rect x="372.63" y="242.65" width="4.67" height="6.65" fill="#ffffff"/>
<rect x="376.29" y="242.65" width="4.67" height="6.65" fill="#ffffff"/>
<rect x="379.96" y="242.65" width="4.67" height="6.65" fill="#e0ffea"/>
<rect x="383.63" y="242.65" width="4.67" height="6.65" fill="#e0ffea"/>
<rect x="387.30" y="242.65" width="4.67" height="6.65" fill="#ffffff"/>
<rect x="302.94" y="248.30" width="4.67" height="6.65" fill="#e0ffea"/>
<rect x="306.61" y="248.30" width="4.67" height="6.65" fill="#b4ffe4"/>
<rect x="310.28" y="248.30" width="4.67" height="6.65" fill="#e0ffea"/>
<rect x="313.95" y="248.30" width="4.67" height="6.65" fill="#70fa8a"/>
<rect x="317.62" y="248.30" width="4.67" height="6.65" fill="#a0ff5f"/>
<rect x="321.28" y="248.30" width="4.67" height="6.65" fill="#beff41"/>
<rect x="324.95" y="248.30" width="4.67" height="6.65" fill="#deff21"/>
<rect x="328.62" y="248.30" width="4.67" height="6.65" fill="#deff21"/>
<rect x="332.28" y="248.30" width="4.67" height="6.65" fill="#deff21"/>
<rect x="335.95" y="248.30" width="4.67" height="6.65" fill="#ff1b00"/>
<rect x="339.62" y="248.30" width="4.67" height="6.65" fill="#ffeb00"/>
<rect x="343.29" y="248.30" width="4.67" height="6.65" fill="#beff41"/>
<rect x="346.95" y="248.30" width="4.67" height="6.65" fill="#87fd76"/>
<rect x="350.62" y="248.30" width="4.67" height="6.65" fill="#b4ffe4"/>
<rect x="354.29" y="248.30" width="4.67" height="6.65" fill="#e0ffea"/>
<rect x="357.96" y="248.30" width="4.67" height="6.65" fill="#ffffff"/>
<rect x="361.62" y="248.30" width="4.67" height="6.65" fill="#e0ffea"/>
<rect x="365.29" y="248.30" width="4.67" height="6.65" fill="#ffffff"/>
<rect x="368.96" y="248.30" width="4.67" height="6.65" fill="#ffffff"/>
<rect x="376.29" y="248.30" width="4.67" height="6.65" fill="#e0ffea"/>
<rect x="379.96" y="248.30" width="4.67" height="6.65" fill="#ffffff"/>
<rect x="383.63" y="248.30" width="4.67" height="6.65" fill="#ffffff"/>
<rect x="387.30" y="248.30" width="4.67" height="6.65" fill="#ffffff"/>
<rect x="302.94" y="253.95" width="4.67" height="6.65" fill="#e0ffea"/>
<rect x="306.61" y="253.95" width="4.67" height="6.65" fill="#b4ffe4"/>
<rect x="310.28" y="253.95" width="4.67" height="6.65" fill="#87fd76"/>
<rect x="313.95" y="253.95" width="4.67" height="6.65" fill="#ffb500"/>
<rect x="317.62" y="253.95" width="4.67" height="6.65" fill="#beff41"/>
<rect x="321.28" y="253.95" width="4.67" height="6.65" fill="#deff21"/>
<rect x="324.95" y="253.95" width="4.67" height="6.65" fill="#deff21"/>
<rect x="328.62" y="253.95" width="4.67" height="6.65" fill="#fbff04"/>
<rect x="332.28" y="253.95" width="4.67" height="6.65" fill="#ffeb00"/>
<rect x="335.95" y="253.95" width="4.67" height="6.65" fill="#deff21"/>
<rect x="339.62" y="253.95" width="4.67" height="6.65" fill="#a0ff5f"/>
<rect x="343.29" y="253.95" width="4.67" height="6.65" fill="#87fd76"/>
<rect x="346.95" y="253.95" width="4.67" height="6.65" fill="#b4ffe4"/>
<rect x="350.62" y="253.95" width="4.67" height="6.65" fill="#87fd76"/>
<rect x="354.29" y="253.95" width="4.67" height="6.65" fill="#b4ffe4"/>
<rect x="357.96" y="253.95" width="4.67" height="6.65" fill="#e0ffea"/>
<rect x="361.62" y="253.95" width="4.67" height="6.65" fill="#e0ffea"/>
<rect x="365.29" y="253.95" width="4.67" height="6.65" fill="#e0ffea"/>
<rect x="368.96" y="253.95" width="4.67" height="6.65" fill="#e0ffea"/>
<rect x="372.63" y="253.95" width="4.67" height="6.65" fill="#ffffff"/>
<rect x="376.29" y="253.95" width="4.67" height="6.65" fill="#ffffff"/>
<rect x="379.96" y="253.95" width="4.67" height="6.65" fill="#ffffff"/>
<rect x="291.94" y="259.60" width="4.67" height="6.65" fill="#e0ffea"/>
<rect x="295.61" y="259.60" width="4.67" height="6.65" fill="#59f79e"/>
<rect x="299.28" y="259.60" width="4.67" height="6.65" fill="#59f79e"/>
<rect x="302.94" y="259.60" width="4.67" height="6.65" fill="#59f79e"/>
<rect x="306.61" y="259.60" width="4.67" height="6.65" fill="#87fd76"/>
<rect x="310.28" y="259.60" width="4.67" height="6.65" fill="#87fd76"/>
<rect x="313.95" y="259.60" width="4.67" height="6.65" fill="#a0ff5f"/>
<rect x="317.62" y="259.60" width="4.67" height="6.65" fill="#f50000"/>
<rect x="321.28" y="259.60" width="4.67" height="6.65" fill="#fbff04"/>
<rect x="324.95" y="259.60" width="4.67" height="6.65" fill="#ffeb00"/>
<rect x="328.62" y="259.60" width="4.67" height="6.65" fill="#ffb500"/>
<rect x="332.28" y="259.60" width="4.67" height="6.65" fill="#deff21"/>
<rect x="335.95" y="259.60" width="4.67" height="6.65" fill="#a0ff5f"/>
<rect x="339.62" y="259.60" width="4.67" height="6.65" fill="#87fd76"/>
<rect x="343.29" y="259.60" width="4.67" height="6.65" fill="#87fd76"/>
<rect x="346.95" y="259.60" width="4.67" height="6.65" fill="#87fd76"/>
<rect x="350.62" y="259.60" width="4.67" height="6.65" fill="#b4ffe4"/>
<rect x="354.29" y="259.60" width="4.67" height="6.65" fill="#e0ffea"/>
<rect x="357.96" y="259.60" width="4.67" height="6.65" fill="#e0ffea"/>
<rect x="361.62" y="259.60" width="4.67" height="6.65" fill="#e0ffea"/>
<rect x="365.29" y="259.60" width="4.67" height="6.65" fill="#e0ffea"/>
<rect x="368.96" y="259.60" width="4.67" height="6.65" fill="#ffffff"/>
<rect x="372.63" y="259.60" width="4.67" height="6.65" fill="#e0ffea"/>
<rect x="376.29" y="259.60" width="4.67" height="6.65" fill="#e0ffea"/>
<rect x="379.96" y="259.60" width="4.67" height="6.65" fill="#ffffff"/>
<rect x="288.27" y="265.25" width="4.67" height="6.65" fill="#e0ffea"/>
<rect x="291.94" y="265.25" width="4.67" height="6.65" fill="#e0ffea"/>
<rect x="295.61" y="265.25" width="4.67" height="6.65" fill="#59f79e"/>
<rect x="299.28" y="265.25" width="4.67" height="6.65" fill="#deff21"/>
<rect x="302.94" y="265.25" width="4.67" height="6.65" fill="#deff21"/>
<rect x="306.61" y="265.25" width="4.67" height="6.65" fill="#beff41"/>
<rect x="310.28" y="265.25" width="4.67" height="6.65" fill="#a0ff5f"/>
<rect x="313.95" y="265.25" width="4.67" height="6.65" fill="#ff6b00"/>
<rect x="317.62" y="265.25" width="4.67" height="6.65" fill="#ffb500"/>
<rect x="321.28" y="265.25" width="4.67" height="6.65" fill="#ff6b00"/>
<rect x="324.95" y="265.25" width="4.67" height="6.65" fill="#ff9500"/>
<rect x="328.62" y="265.25" width="4.67" height="6.65" fill="#fbff04"/>
<rect x="332.28" y="265.25" width="4.67" height="6.65" fill="#deff21"/>
<rect x="335.95" y="265.25" width="4.67" height="6.65" fill="#a0ff5f"/>
<rect x="339.62" y="265.25" width="4.67" height="6.65" fill="#87fd76"/>
<rect x="343.29" y="265.25" width="4.67" height="6.65" fill="#e0ffea"/>
<rect x="346.95" y="265.25" width="4.67" height="6.65" fill="#e0ffea"/>
<rect x="350.62" y="265.25" width="4.67" height="6.65" fill="#b4ffe4"/>
<rect x="354.29" y="265.25" width="4.67" height="6.65" fill="#59f79e"/>
<rect x="357.96" y="265.25" width="4.67" height="6.65" fill="#e0ffea"/>
<rect x="361.62" y="265.25" width="4.67" height="6.65" fill="#ffffff"/>
<rect x="365.29" y="265.25" width="4.67" height="6.65" fill="#ffffff"/>
<rect x="368.96" y="265.25" width="4.67" height="6.65" fill="#ffffff"/>
<rect x="372.63" y="265.25" width="4.67" height="6.65" fill="#ffffff"/>
<rect x="376.29" y="265.25" width="4.67" height="6.65" fill="#ffffff"/>
<rect x="379.96" y="265.25" width="4.67" height="6.65" fill="#ffffff"/>
<rect x="412.97" y="265.25" width="4.67" height="6.65" fill="#e0ffea"/>
<rect x="416.64" y="265.25" width="4.67" height="6.65" fill="#ffffff"/>
<rect x="277.27" y="270.90" width="4.67" height="6.65" fill="#b4ffe4"/>
<rect x="280.94" y="270.90" width="4.67" height="6.65" fill="#b4ffe4"/>
<rect x="284.61" y="270.90" width="4.67" height="6.65" fill="#e0ffea"/>
<rect x="288.27" y="270.90" width="4.67" height="6.65" fill="#ffffff"/>
<rect x="291.94" y="270.90" width="4.67" height="6.65" fill="#e0ffea"/>
<rect x="295.61" y="270.90" width="4.67" height="6.65" fill="#70fa8a"/>
<rect x="299.28" y="270.90" width="4.67" height="6.65" fill="#a0ff5f"/>
<rect x="302.94" y="270.90" width="4.67" height="6.65" fill="#a0ff5f"/>
<rect x="306.61" y="270.90" width="4.67" height="6.65" fill="#beff41"/>
<rect x="310.28" y="270.90" width="4.67" height="6.65" fill="#ffeb00"/>
<rect x="313.95" y="270.90" width="4.67" height="6.65" fill="#ffd200"/>
<rect x="317.62" y="270.90" width="4.67" height="6.65" fill="#ff9500"/>
<rect x="321.28" y="270.90" width="4.67" height="6.65" fill="#ff9500"/>
<rect x="324.95" y="270.90" width="4.67" height="6.65" fill="#deff21"/>
<rect x="328.62" y="270.90" width="4.67" height="6.65" fill="#beff41"/>
<rect x="332.28" y="270.90" width="4.67" height="6.65" fill="#a0ff5f"/>
<rect x="335.95" y="270.90" width="4.67" height="6.65" fill="#87fd76"/>
<rect x="339.62" y="270.90" width="4.67" height="6.65" fill="#b4ffe4"/>
<rect x="343.29" y="270.90" width="4.67" height="6.65" fill="#e0ffea"/>
<rect x="346.95" y="270.90" width="4.67" height="6.65" fill="#ffffff"/>
<rect x="350.62" y="270.90" width="4.67" height="6.65" fill="#e0ffea"/>
<rect x="354.29" y="270.90" width="4.67" height="6.65" fill="#ffffff"/>
<rect x="357.96" y="270.90" width="4.67" height="6.65" fill="#ffffff"/>
<rect x="361.62" y="270.90" width="4.67" height="6.65" fill="#ffffff"/>
<rect x="412.97" y="270.90" width="4.67" height="6.65" fill="#ffffff"/>
<rect x="416.64" y="270.90" width="4.67" height="6.65" fill="#ffffff"/>
<rect x="277.27" y="276.55" width="4.67" height="6.65" fill="#e0ffea"/>
<rect x="280.94" y="276.55" width="4.67" height="6.65" fill="#e0ffea"/>
<rect x="284.61" y="276.55" width="4.67" height="6.65" fill="#ffffff"/>
<rect x="288.27" y="276.55" width="4.67" height="6.65" fill="#ffffff"/>
<rect x="291.94" y="276.55" width="4.67" height="6.65" fill="#e0ffea"/>
<rect x="295.61" y="276.55" width="4.67" height="6.65" fill="#70fa8a"/>
<rect x="299.28" y="276.55" width="4.67" height="6.65" fill="#a0ff5f"/>
<rect x="302.94" y="276.55" width="4.67" height="6.65" fill="#ff6b00"/>
<rect x="306.61" y="276.55" width="4.67" height="6.65" fill="#deff21"/>
<rect x="310.28" y="276.55" width="4.67" height="6.65" fill="#fbff04"/>
<rect x="313.95" y="276.55" width="4.67" height="6.65" fill="#ffb500"/>
<rect x="317.62" y="276.55" width="4.67" height="6.65" fill="#ffeb00"/>
<rect x="321.28" y="276.55" width="4.67" height="6.65" fill="#ffb500"/>
<rect x="324.95" y="276.55" width="4.67" height="6.65" fill="#fbff04"/>
<rect x="328.62" y="276.55" width="4.67" height="6.65" fill="#a0ff5f"/>
<rect x="332.28" y="276.55" width="4.67" height="6.65" fill="#70fa8a"/>
<rect x="335.95" y="276.55" width="4.67" height="6.65" fill="#e0ffea"/>
<rect x="339.62" y="276.55" width="4.67" height="6.65" fill="#ffffff"/>
<rect x="343.29" y="276.55" width="4.67" height="6.65" fill="#ffffff"/>
<rect x="346.95" y="276.55" width="4.67" height="6.65" fill="#ffffff"/>
<rect x="350.62" y="276.55" width="4.67" height="6.65" fill="#ffffff"/>
<rect x="354.29" y="276.55" width="4.67" height="6.65" fill="#ffffff"/>
<rect x="277.27" y="282.20" width="4.67" height="6.65" fill="#e0ffea"/>
<rect x="280.94" y="282.20" width="4.67" height="6.65" fill="#b4ffe4"/>
<rect x="284.61" y="282.20" width="4.67" height="6.65" fill="#b4ffe4"/>
<rect x="288.27" y="282.20" width="4.67" height="6.65" fill="#59f79e"/>
<rect x="291.94" y="282.20" width="4.67" height="6.65" fill="#e0ffea"/>
<rect x="295.61" y="282.20" width="4.67" height="6.65" fill="#70fa8a"/>
<rect x="299.28" y="282.20" width="4.67" height="6.65" fill="#87fd76"/>
<rect x="302.94" y="282.20" width="4.67" height="6.65" fill="#ff6b00"/>
<rect x="306.61" y="282.20" width="4.67" height="6.65" fill="#ffb500"/>
<rect x="310.28" y="282.20" width="4.67" height="6.65" fill="#deff21"/>
<rect x="313.95" y="282.20" width="4.67" height="6.65" fill="#deff21"/>
<rect x="317.62" y="282.20" width="4.67" height="6.65" fill="#fbff04"/>
<rect x="321.28" y="282.20" width="4.67" height="6.65" fill="#87fd76"/>
<rect x="324.95" y="282.20" width="4.67" height="6.65" fill="#e0ffea"/>
<rect x="328.62" y="282.20" width="4.67" height="6.65" fill="#ffffff"/>
<rect x="332.28" y="282.20" width="4.67" height="6.65" fill="#e0ffea"/>
<rect x="335.95" y="282.20" width="4.67" height="6.65" fill="#ffffff"/>
<rect x="339.62" y="282.20" width="4.67" height="6.65" fill="#ffffff"/>
<rect x="346.95" y="282.20" width="4.67" height="6.65" fill="#e0ffea"/>
<rect x="350.62" y="282.20" width="4.67" height="6.65" fill="#ffffff"/>
<rect x="277.27" y="287.85" width="4.67" height="6.65" fill="#ffffff"/>
<rect x="280.94" y="287.85" width="4.67" height="6.65" fill="#b4ffe4"/>
<rect x="284.61" y="287.85" width="4.67" height="6.65" fill="#e0ffea"/>
<rect x="288.27" y="287.85" width="4.67" height="6.65" fill="#e0ffea"/>
<rect x="291.94" y="287.85" width="4.67" height="6.65" fill="#e0ffea"/>
<rect x="295.61" y="287.85" width="4.67" height="6.65" fill="#87fd76"/>
<rect x="299.28" y="287.85" width="4.67" height="6.65" fill="#fbff04"/>
<rect x="302.94" y="287.85" width="4.67" height="6.65" fill="#ffb500"/>
<rect x="306.61" y="287.85" width="4.67" height="6.65" fill="#beff41"/>
<rect x="310.28" y="287.85" width="4.67" height="6.65" fill="#a0ff5f"/>
<rect x="313.95" y="287.85" width="4.67" height="6.65" fill="#a0ff5f"/>
<rect x="317.62" y="287.85" width="4.67" height="6.65" fill="#b4ffe4"/>
<rect x="321.28" y="287.85" width="4.67" height="6.65" fill="#e0ffea"/>
<rect x="324.95" y="287.85" width="4.67" height="6.65" fill="#b4ffe4"/>
<rect x="328.62" y="287.85" width="4.67" height="6.65" fill="#ffffff"/>
<rect x="332.28" y="287.85" width="4.67" height="6.65" fill="#ffffff"/>
<rect x="335.95" y="287.85" width="4.67" height="6.65" fill="#ffffff"/>
<rect x="346.95" y="287.85" width="4.67" height="6.65" fill="#ffffff"/>
<rect x="350.62" y="287.85" width="4.67" height="6.65" fill="#ffffff"/>
<rect x="273.61" y="293.50" width="4.67" height="6.65" fill="#e0ffea"/>
<rect x="277.27" y="293.50" width="4.67" height="6.65" fill="#ffffff"/>
<rect x="280.94" y="293.50" width="4.67" height="6.65" fill="#ffffff"/>
<rect x="284.61" y="293.50" width="4.67" height="6.65" fill="#59f79e"/>
<rect x="288.27" y="293.50" width="4.67" height="6.65" fill="#59f79e"/>
<rect x="291.94" y="293.50" width="4.67" height="6.65" fill="#b4ffe4"/>
<rect x="295.61" y="293.50" width="4.67" height="6.65" fill="#59f79e"/>
<rect x="299.28" y="293.50" width="4.67" height="6.65" fill="#59f79e"/>
<rect x="302.94" y="293.50" width="4.67" height="6.65" fill="#e0ffea"/>
<rect x="306.61" y="293.50" width="4.67" height="6.65" fill="#ffffff"/>
<rect x="310.28" y="293.50" width="4.67" height="6.65" fill="#59f79e"/>
<rect x="313.95" y="293.50" width="4.67" height="6.65" fill="#ffffff"/>
<rect x="317.62" y="293.50" width="4.67" height="6.65" fill="#ffffff"/>
<rect x="321.28" y="293.50" width="4.67" height="6.65" fill="#ffffff"/>
<rect x="324.95" y="293.50" width="4.67" height="6.65" fill="#ffffff"/>
<rect x="328.62" y="293.50" width="4.67" height="6.65" fill="#ffffff"/>
<rect x="273.61" y="299.15" width="4.67" height="6.65" fill="#ffffff"/>
<rect x="277.27" y="299.15" width="4.67" height="6.65" fill="#59f79e"/>
<rect x="280.94" y="299.15" width="4.67" height="6.65" fill="#b4ffe4"/>
<rect x="284.61" y="299.15" width="4.67" height="6.65" fill="#e0ffea"/>
<rect x="288.27" y="299.15" width="4.67" height="6.65" fill="#e0ffea"/>
<rect x="291.94" y="299.15" width="4.67" height="6.65" fill="#e0ffea"/>
<rect x="295.61" y="299.15" width="4.67" height="6.65" fill="#ffffff"/>
<rect x="299.28" y="299.15" width="4.67" height="6.65" fill="#ffffff"/>
<rect x="302.94" y="299.15" width="4.67" height="6.65" fill="#ffffff"/>
<rect x="306.61" y="299.15" width="4.67" height="6.65" fill="#ffffff"/>
<rect x="310.28" y="299.15" width="4.67" height="6.65" fill="#ffffff"/>
<rect x="313.95" y="299.15" width="4.67" height="6.65" fill="#ffffff"/>
<rect x="273.61" y="304.80" width="4.67" height="6.65" fill="#e0ffea"/>
<rect x="277.27" y="304.80" width="4.67" height="6.65" fill="#e0ffea"/>
<rect x="280.94" y="304.80" width="4.67" height="6.65" fill="#e0ffea"/>
<rect x="284.61" y="304.80" width="4.67" height="6.65" fill="#ffffff"/>
<rect x="288.27" y="304.80" width="4.67" height="6.65" fill="#ffffff"/>
<rect x="291.94" y="304.80" width="4.67" height="6.65" fill="#ffffff"/>
<rect x="295.61" y="304.80" width="4.67" height="6.65" fill="#ffffff"/>
<rect x="273.61" y="310.45" width="4.67" height="6.65" fill="#ffffff"/>
<rect x="277.27" y="310.45" width="4.67" height="6.65" fill="#ffffff"/>
<rect x="280.94" y="310.45" width="4.67" height="6.65" fill="#ffffff"/>
<rect x="284.61" y="310.45" width="4.67" height="6.65" fill="#ffffff"/>
</g>
<path d="M288.27 180.50V350.00M324.95 180.50V350.00M361.62 180.50V350.00M398.30 180.50V350.00M434.98 180.50V350.00M251.60 293.50H453.31M251.60 237.50H453.31" stroke="#262626" stroke-opacity="0.13" stroke-width="1" fill="none"/>
<path d="M251.60 350.00v-2.2M251.60 180.50v2.2M288.27 350.00v-2.2M288.27 180.50v2.2M324.95 350.00v-2.2M324.95 180.50v2.2M361.62 350.00v-2.2M361.62 180.50v2.2M398.30 350.00v-2.2M398.30 180.50v2.2M434.98 350.00v-2.2M434.98 180.50v2.2M251.60 350.00h2.2M453.31 350.00h-2.2M251.60 293.50h2.2M453.31 293.50h-2.2M251.60 237.00h2.2M453.31 237.00h-2.2M251.60 180.50h2.2M453.31 180.50h-2.2" stroke="#262626" stroke-opacity="0.8" stroke-width="0.6" fill="none"/>
<rect x="251.5" y="180.5" width="202.0" height="169.0" fill="none" stroke="#262626" stroke-opacity="0.47" stroke-width="1"/>
<text x="252.3" y="191.0" font-size="10" fill="#000">DC-8 FT</text>
<text x="41.5" y="363.4" font-size="9.2" text-anchor="middle">-1</text>
<text x="78.2" y="363.4" font-size="9.2" text-anchor="middle">-0.5</text>
<text x="114.8" y="363.4" font-size="9.2" text-anchor="middle">0</text>
<text x="151.5" y="363.4" font-size="9.2" text-anchor="middle">0.5</text>
<text x="188.2" y="363.4" font-size="9.2" text-anchor="middle">1</text>
<text x="224.9" y="363.4" font-size="9.2" text-anchor="middle">1.5</text>
<text x="251.2" y="363.4" font-size="9.2" text-anchor="middle">-1</text>
<text x="287.9" y="363.4" font-size="9.2" text-anchor="middle">-0.5</text>
<text x="324.6" y="363.4" font-size="9.2" text-anchor="middle">0</text>
<text x="361.2" y="363.4" font-size="9.2" text-anchor="middle">0.5</text>
<text x="397.9" y="363.4" font-size="9.2" text-anchor="middle">1</text>
<text x="434.6" y="363.4" font-size="9.2" text-anchor="middle">1.5</text>
<text x="38.2" y="177.9" font-size="9.2" text-anchor="end">0.5</text>
<text x="38.2" y="121.4" font-size="9.2" text-anchor="end">1</text>
<text x="38.2" y="64.9" font-size="9.2" text-anchor="end">1.5</text>
<text x="38.2" y="353.4" font-size="9.2" text-anchor="end">0.5</text>
<text x="38.2" y="296.9" font-size="9.2" text-anchor="end">1</text>
<text x="38.2" y="240.4" font-size="9.2" text-anchor="end">1.5</text>
<text x="247.3" y="382" font-size="12.1" text-anchor="middle">NO<tspan font-size="10" dy="4.6">y</tspan><tspan dy="-4.6"> nitrogen (log</tspan><tspan font-size="10" dy="4.6">10</tspan><tspan dy="-4.6"> ppb)</tspan></text>
<text transform="translate(14.4 177.4) rotate(-90)" font-size="12.3" text-anchor="middle">VOC carbon (log<tspan font-size="10" dy="4.6">10</tspan><tspan dy="-4.6"> ppb)</tspan></text>
<rect x="460.60" y="170.20" width="12.30" height="4.30" fill="#ffffff"/>
<rect x="460.60" y="165.80" width="12.30" height="5.00" fill="#e0ffea"/>
<rect x="460.60" y="161.00" width="12.30" height="5.40" fill="#b4ffe4"/>
<rect x="460.60" y="157.61" width="12.30" height="3.99" fill="#5af79d"/>
<rect x="460.60" y="154.23" width="12.30" height="3.99" fill="#65f893"/>
<rect x="460.60" y="150.84" width="12.30" height="3.99" fill="#71fa89"/>
<rect x="460.60" y="147.45" width="12.30" height="3.99" fill="#7cfb7f"/>
<rect x="460.60" y="144.07" width="12.30" height="3.99" fill="#88fd75"/>
<rect x="460.60" y="140.68" width="12.30" height="3.99" fill="#93fe6b"/>
<rect x="460.60" y="137.29" width="12.30" height="3.99" fill="#9fff60"/>
<rect x="460.60" y="133.90" width="12.30" height="3.99" fill="#abff54"/>
<rect x="460.60" y="130.52" width="12.30" height="3.99" fill="#b7ff48"/>
<rect x="460.60" y="127.13" width="12.30" height="3.99" fill="#c4ff3b"/>
<rect x="460.60" y="123.74" width="12.30" height="3.99" fill="#d0ff2f"/>
<rect x="460.60" y="120.36" width="12.30" height="3.99" fill="#dcff23"/>
<rect x="460.60" y="116.97" width="12.30" height="3.99" fill="#e8ff17"/>
<rect x="460.60" y="113.58" width="12.30" height="3.99" fill="#f5ff0a"/>
<rect x="460.60" y="110.20" width="12.30" height="3.99" fill="#fffd00"/>
<rect x="460.60" y="106.81" width="12.30" height="3.99" fill="#fff100"/>
<rect x="460.60" y="103.42" width="12.30" height="3.99" fill="#ffe500"/>
<rect x="460.60" y="100.03" width="12.30" height="3.99" fill="#ffd800"/>
<rect x="460.60" y="96.65" width="12.30" height="3.99" fill="#ffcc00"/>
<rect x="460.60" y="93.26" width="12.30" height="3.99" fill="#ffc000"/>
<rect x="460.60" y="89.87" width="12.30" height="3.99" fill="#ffb400"/>
<rect x="460.60" y="86.49" width="12.30" height="3.99" fill="#ffa700"/>
<rect x="460.60" y="83.10" width="12.30" height="3.99" fill="#ff9b00"/>
<rect x="460.60" y="79.71" width="12.30" height="3.99" fill="#ff8f00"/>
<rect x="460.60" y="76.33" width="12.30" height="3.99" fill="#ff8300"/>
<rect x="460.60" y="72.94" width="12.30" height="3.99" fill="#ff7600"/>
<rect x="460.60" y="69.55" width="12.30" height="3.99" fill="#ff6a00"/>
<rect x="460.60" y="66.17" width="12.30" height="3.99" fill="#ff5e00"/>
<rect x="460.60" y="62.78" width="12.30" height="3.99" fill="#ff5200"/>
<rect x="460.60" y="59.39" width="12.30" height="3.99" fill="#ff4500"/>
<rect x="460.60" y="56.00" width="12.30" height="3.99" fill="#ff3900"/>
<rect x="460.60" y="52.62" width="12.30" height="3.99" fill="#ff2d00"/>
<rect x="460.60" y="49.23" width="12.30" height="3.99" fill="#ff2100"/>
<rect x="460.60" y="45.84" width="12.30" height="3.99" fill="#ff1400"/>
<rect x="460.60" y="42.46" width="12.30" height="3.99" fill="#ff0800"/>
<rect x="460.60" y="39.07" width="12.30" height="3.99" fill="#fb0000"/>
<rect x="460.60" y="35.68" width="12.30" height="3.99" fill="#ef0000"/>
<rect x="460.60" y="32.30" width="12.30" height="3.99" fill="#e20000"/>
<rect x="460.60" y="28.91" width="12.30" height="3.99" fill="#d60000"/>
<rect x="460.60" y="25.52" width="12.30" height="3.99" fill="#ca0000"/>
<rect x="460.60" y="22.13" width="12.30" height="3.99" fill="#be0000"/>
<rect x="460.60" y="18.75" width="12.30" height="3.99" fill="#b10000"/>
<rect x="460.60" y="15.36" width="12.30" height="3.99" fill="#a50000"/>
<rect x="460.60" y="11.97" width="12.30" height="3.99" fill="#990000"/>
<rect x="460.60" y="8.59" width="12.30" height="3.99" fill="#8d0000"/>
<rect x="460.60" y="5.20" width="12.30" height="3.99" fill="#810000"/>
<rect x="460.50" y="5.50" width="12.00" height="169.00" fill="none" stroke="#262626" stroke-opacity="0.47" stroke-width="1"/>
<text x="476.6" y="178.2" font-size="9">0</text>
<path d="M472.90 106.78h-2" stroke="#262626" stroke-width="0.6" stroke-opacity="0.8"/>
<text x="476.6" y="110.5" font-size="9">1</text>
<path d="M472.90 39.06h-2" stroke="#262626" stroke-width="0.6" stroke-opacity="0.8"/>
<text x="476.6" y="42.8" font-size="9">2</text>
<text transform="translate(493 90.5) rotate(-90)" font-size="8.76" text-anchor="middle">Dry air moles (pixel % total)</text>
<rect x="460.60" y="345.70" width="12.30" height="4.30" fill="#ffffff"/>
<rect x="460.60" y="341.30" width="12.30" height="5.00" fill="#e0ffea"/>
<rect x="460.60" y="336.50" width="12.30" height="5.40" fill="#b4ffe4"/>
<rect x="460.60" y="333.11" width="12.30" height="3.99" fill="#5af79d"/>
<rect x="460.60" y="329.72" width="12.30" height="3.99" fill="#65f893"/>
<rect x="460.60" y="326.33" width="12.30" height="3.99" fill="#71fa89"/>
<rect x="460.60" y="322.93" width="12.30" height="3.99" fill="#7cfb7f"/>
<rect x="460.60" y="319.54" width="12.30" height="3.99" fill="#88fd75"/>
<rect x="460.60" y="316.15" width="12.30" height="3.99" fill="#93fe6b"/>
<rect x="460.60" y="312.76" width="12.30" height="3.99" fill="#9fff60"/>
<rect x="460.60" y="309.37" width="12.30" height="3.99" fill="#abff54"/>
<rect x="460.60" y="305.98" width="12.30" height="3.99" fill="#b7ff48"/>
<rect x="460.60" y="302.59" width="12.30" height="3.99" fill="#c4ff3b"/>
<rect x="460.60" y="299.20" width="12.30" height="3.99" fill="#d0ff2f"/>
<rect x="460.60" y="295.80" width="12.30" height="3.99" fill="#dcff23"/>
<rect x="460.60" y="292.41" width="12.30" height="3.99" fill="#e8ff17"/>
<rect x="460.60" y="289.02" width="12.30" height="3.99" fill="#f5ff0a"/>
<rect x="460.60" y="285.63" width="12.30" height="3.99" fill="#fffd00"/>
<rect x="460.60" y="282.24" width="12.30" height="3.99" fill="#fff100"/>
<rect x="460.60" y="278.85" width="12.30" height="3.99" fill="#ffe500"/>
<rect x="460.60" y="275.46" width="12.30" height="3.99" fill="#ffd800"/>
<rect x="460.60" y="272.07" width="12.30" height="3.99" fill="#ffcc00"/>
<rect x="460.60" y="268.67" width="12.30" height="3.99" fill="#ffc000"/>
<rect x="460.60" y="265.28" width="12.30" height="3.99" fill="#ffb400"/>
<rect x="460.60" y="261.89" width="12.30" height="3.99" fill="#ffa700"/>
<rect x="460.60" y="258.50" width="12.30" height="3.99" fill="#ff9b00"/>
<rect x="460.60" y="255.11" width="12.30" height="3.99" fill="#ff8f00"/>
<rect x="460.60" y="251.72" width="12.30" height="3.99" fill="#ff8300"/>
<rect x="460.60" y="248.33" width="12.30" height="3.99" fill="#ff7600"/>
<rect x="460.60" y="244.93" width="12.30" height="3.99" fill="#ff6a00"/>
<rect x="460.60" y="241.54" width="12.30" height="3.99" fill="#ff5e00"/>
<rect x="460.60" y="238.15" width="12.30" height="3.99" fill="#ff5200"/>
<rect x="460.60" y="234.76" width="12.30" height="3.99" fill="#ff4500"/>
<rect x="460.60" y="231.37" width="12.30" height="3.99" fill="#ff3900"/>
<rect x="460.60" y="227.98" width="12.30" height="3.99" fill="#ff2d00"/>
<rect x="460.60" y="224.59" width="12.30" height="3.99" fill="#ff2100"/>
<rect x="460.60" y="221.20" width="12.30" height="3.99" fill="#ff1400"/>
<rect x="460.60" y="217.80" width="12.30" height="3.99" fill="#ff0800"/>
<rect x="460.60" y="214.41" width="12.30" height="3.99" fill="#fb0000"/>
<rect x="460.60" y="211.02" width="12.30" height="3.99" fill="#ef0000"/>
<rect x="460.60" y="207.63" width="12.30" height="3.99" fill="#e20000"/>
<rect x="460.60" y="204.24" width="12.30" height="3.99" fill="#d60000"/>
<rect x="460.60" y="200.85" width="12.30" height="3.99" fill="#ca0000"/>
<rect x="460.60" y="197.46" width="12.30" height="3.99" fill="#be0000"/>
<rect x="460.60" y="194.07" width="12.30" height="3.99" fill="#b20000"/>
<rect x="460.60" y="190.67" width="12.30" height="3.99" fill="#a50000"/>
<rect x="460.60" y="187.28" width="12.30" height="3.99" fill="#990000"/>
<rect x="460.60" y="183.89" width="12.30" height="3.99" fill="#8d0000"/>
<rect x="460.60" y="180.50" width="12.30" height="3.99" fill="#810000"/>
<rect x="460.50" y="180.50" width="12.00" height="169.00" fill="none" stroke="#262626" stroke-opacity="0.47" stroke-width="1"/>
<text x="476.6" y="353.7" font-size="9">0</text>
<path d="M472.90 282.20h-2" stroke="#262626" stroke-width="0.6" stroke-opacity="0.8"/>
<text x="476.6" y="285.9" font-size="9">1</text>
<path d="M472.90 214.40h-2" stroke="#262626" stroke-width="0.6" stroke-opacity="0.8"/>
<text x="476.6" y="218.1" font-size="9">2</text>
<text transform="translate(493 265.1) rotate(-90)" font-size="8.76" text-anchor="middle">Number obs. (pixel % total)</text>
</svg>
</body></html>
